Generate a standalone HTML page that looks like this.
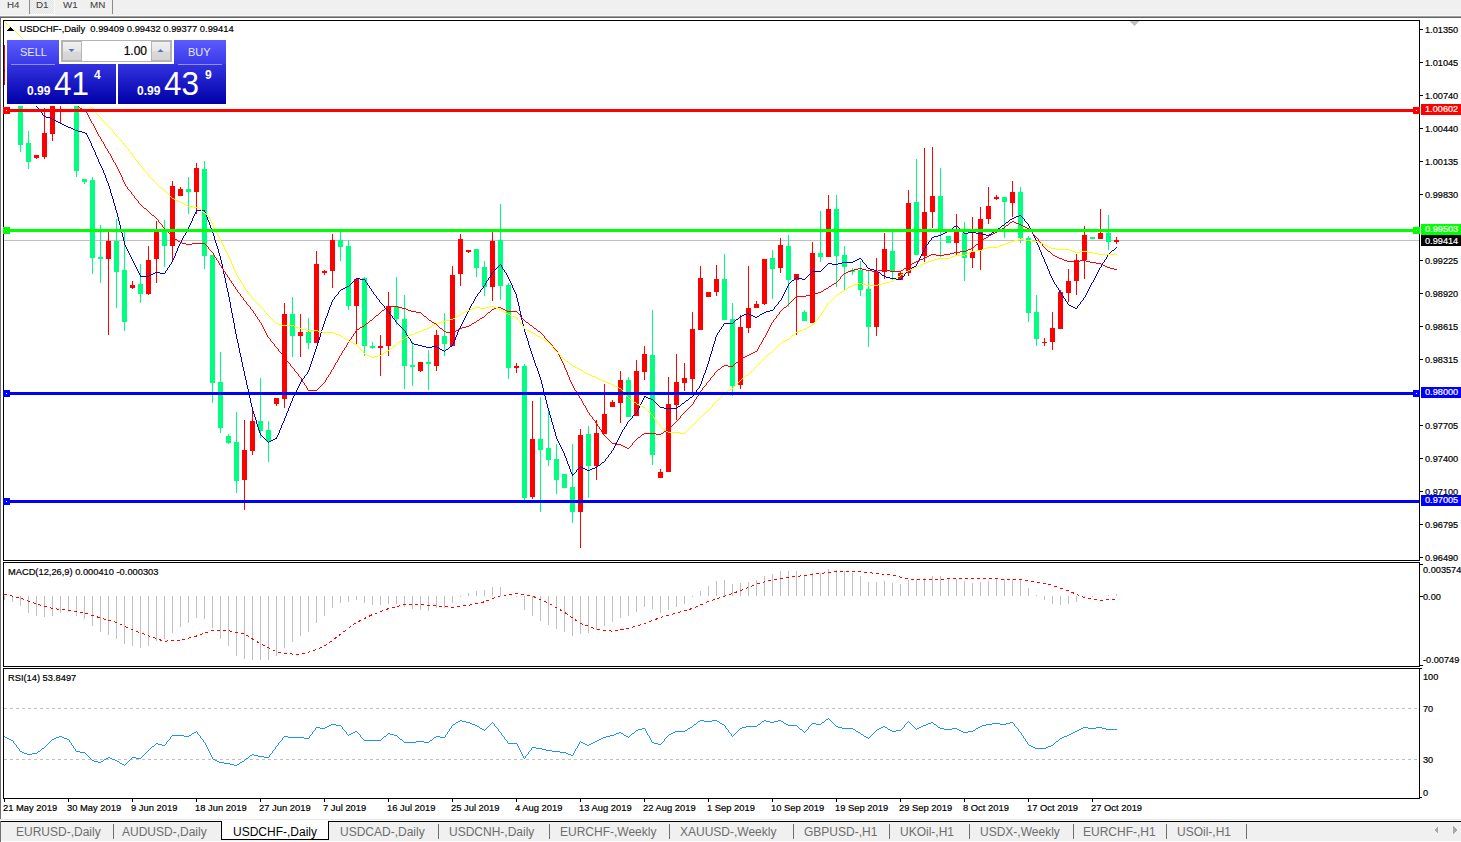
<!DOCTYPE html>
<html><head><meta charset="utf-8"><style>
html,body{margin:0;padding:0;width:1461px;height:842px;overflow:hidden;background:#fff}
svg{display:block}
text{font-family:"Liberation Sans",sans-serif}
</style></head><body>
<svg width="1461" height="842" viewBox="0 0 1461 842" shape-rendering="crispEdges">
<defs><clipPath id="mainclip"><rect x="4" y="21" width="1415" height="539"/></clipPath></defs>
<rect x="0" y="0" width="1461" height="16" fill="#f0f0f0"/>
<rect x="0" y="15" width="1461" height="1" fill="#f7f7f7"/>
<rect x="0" y="16" width="1461" height="1" fill="#a0a0a0"/>
<rect x="0" y="17" width="1461" height="1" fill="#646464"/>
<rect x="0" y="18" width="1461" height="801" fill="#ffffff"/>
<rect x="0" y="18" width="1" height="801" fill="#6e6e6e"/>
<rect x="29" y="0" width="1" height="14" fill="#8c8c8c"/>
<rect x="112" y="0" width="1" height="14" fill="#8c8c8c"/>
<pattern id="hatch" width="2" height="2" patternUnits="userSpaceOnUse"><rect width="2" height="2" fill="#f4f4f4"/><rect width="1" height="1" fill="#e2e2e2"/><rect x="1" y="1" width="1" height="1" fill="#e2e2e2"/></pattern>
<rect x="30" y="0" width="24" height="14" fill="url(#hatch)"/>
<rect x="30" y="14" width="25" height="1" fill="#fafafa"/>
<rect x="54" y="0" width="1" height="14" fill="#fafafa"/>
<text x="7" y="8" font-size="9.8" fill="#404040" font-weight="400" text-anchor="start" stroke="#404040" stroke-width="0.05">H4</text>
<text x="36" y="8" font-size="9.8" fill="#404040" font-weight="400" text-anchor="start" stroke="#404040" stroke-width="0.05">D1</text>
<text x="63" y="8" font-size="9.8" fill="#404040" font-weight="400" text-anchor="start" stroke="#404040" stroke-width="0.05">W1</text>
<text x="90" y="8" font-size="9.8" fill="#404040" font-weight="400" text-anchor="start" stroke="#404040" stroke-width="0.05">MN</text>
<rect x="3" y="20" width="1417" height="1" fill="#000"/>
<rect x="3" y="560" width="1417" height="1" fill="#000"/>
<rect x="3" y="20" width="1" height="541" fill="#000"/>
<rect x="1419" y="20" width="1" height="541" fill="#000"/>
<rect x="3" y="562" width="1417" height="1" fill="#000"/>
<rect x="3" y="666" width="1417" height="1" fill="#000"/>
<rect x="3" y="562" width="1" height="105" fill="#000"/>
<rect x="1419" y="562" width="1" height="105" fill="#000"/>
<rect x="3" y="668" width="1417" height="1" fill="#000"/>
<rect x="3" y="798" width="1417" height="1" fill="#000"/>
<rect x="3" y="668" width="1" height="131" fill="#000"/>
<rect x="1419" y="668" width="1" height="131" fill="#000"/>
<rect x="1420" y="29" width="3" height="1" fill="#000"/>
<text x="1425" y="32.5" font-size="9.2" fill="#000" font-weight="400" text-anchor="start" stroke="#000" stroke-width="0.2">1.01350</text>
<rect x="1420" y="62" width="3" height="1" fill="#000"/>
<text x="1425" y="65.5" font-size="9.2" fill="#000" font-weight="400" text-anchor="start" stroke="#000" stroke-width="0.2">1.01045</text>
<rect x="1420" y="95" width="3" height="1" fill="#000"/>
<text x="1425" y="98.5" font-size="9.2" fill="#000" font-weight="400" text-anchor="start" stroke="#000" stroke-width="0.2">1.00740</text>
<rect x="1420" y="128" width="3" height="1" fill="#000"/>
<text x="1425" y="131.5" font-size="9.2" fill="#000" font-weight="400" text-anchor="start" stroke="#000" stroke-width="0.2">1.00440</text>
<rect x="1420" y="161" width="3" height="1" fill="#000"/>
<text x="1425" y="164.5" font-size="9.2" fill="#000" font-weight="400" text-anchor="start" stroke="#000" stroke-width="0.2">1.00135</text>
<rect x="1420" y="194" width="3" height="1" fill="#000"/>
<text x="1425" y="197.5" font-size="9.2" fill="#000" font-weight="400" text-anchor="start" stroke="#000" stroke-width="0.2">0.99830</text>
<rect x="1420" y="260" width="3" height="1" fill="#000"/>
<text x="1425" y="263.5" font-size="9.2" fill="#000" font-weight="400" text-anchor="start" stroke="#000" stroke-width="0.2">0.99225</text>
<rect x="1420" y="293" width="3" height="1" fill="#000"/>
<text x="1425" y="296.5" font-size="9.2" fill="#000" font-weight="400" text-anchor="start" stroke="#000" stroke-width="0.2">0.98920</text>
<rect x="1420" y="326" width="3" height="1" fill="#000"/>
<text x="1425" y="329.5" font-size="9.2" fill="#000" font-weight="400" text-anchor="start" stroke="#000" stroke-width="0.2">0.98615</text>
<rect x="1420" y="359" width="3" height="1" fill="#000"/>
<text x="1425" y="362.5" font-size="9.2" fill="#000" font-weight="400" text-anchor="start" stroke="#000" stroke-width="0.2">0.98315</text>
<rect x="1420" y="425" width="3" height="1" fill="#000"/>
<text x="1425" y="428.5" font-size="9.2" fill="#000" font-weight="400" text-anchor="start" stroke="#000" stroke-width="0.2">0.97705</text>
<rect x="1420" y="458" width="3" height="1" fill="#000"/>
<text x="1425" y="461.5" font-size="9.2" fill="#000" font-weight="400" text-anchor="start" stroke="#000" stroke-width="0.2">0.97400</text>
<rect x="1420" y="491" width="3" height="1" fill="#000"/>
<text x="1425" y="494.5" font-size="9.2" fill="#000" font-weight="400" text-anchor="start" stroke="#000" stroke-width="0.2">0.97100</text>
<rect x="1420" y="524" width="3" height="1" fill="#000"/>
<text x="1425" y="527.5" font-size="9.2" fill="#000" font-weight="400" text-anchor="start" stroke="#000" stroke-width="0.2">0.96795</text>
<rect x="1420" y="557" width="3" height="1" fill="#000"/>
<text x="1425" y="560.5" font-size="9.2" fill="#000" font-weight="400" text-anchor="start" stroke="#000" stroke-width="0.2">0.96490</text>
<rect x="4" y="799" width="1" height="3" fill="#000"/>
<text x="3" y="811" font-size="9.4" fill="#000" font-weight="400" text-anchor="start" stroke="#000" stroke-width="0.2">21 May 2019</text>
<rect x="68" y="799" width="1" height="3" fill="#000"/>
<text x="67" y="811" font-size="9.4" fill="#000" font-weight="400" text-anchor="start" stroke="#000" stroke-width="0.2">30 May 2019</text>
<rect x="132" y="799" width="1" height="3" fill="#000"/>
<text x="131" y="811" font-size="9.4" fill="#000" font-weight="400" text-anchor="start" stroke="#000" stroke-width="0.2">9 Jun 2019</text>
<rect x="196" y="799" width="1" height="3" fill="#000"/>
<text x="195" y="811" font-size="9.4" fill="#000" font-weight="400" text-anchor="start" stroke="#000" stroke-width="0.2">18 Jun 2019</text>
<rect x="260" y="799" width="1" height="3" fill="#000"/>
<text x="259" y="811" font-size="9.4" fill="#000" font-weight="400" text-anchor="start" stroke="#000" stroke-width="0.2">27 Jun 2019</text>
<rect x="324" y="799" width="1" height="3" fill="#000"/>
<text x="323" y="811" font-size="9.4" fill="#000" font-weight="400" text-anchor="start" stroke="#000" stroke-width="0.2">7 Jul 2019</text>
<rect x="388" y="799" width="1" height="3" fill="#000"/>
<text x="387" y="811" font-size="9.4" fill="#000" font-weight="400" text-anchor="start" stroke="#000" stroke-width="0.2">16 Jul 2019</text>
<rect x="452" y="799" width="1" height="3" fill="#000"/>
<text x="451" y="811" font-size="9.4" fill="#000" font-weight="400" text-anchor="start" stroke="#000" stroke-width="0.2">25 Jul 2019</text>
<rect x="516" y="799" width="1" height="3" fill="#000"/>
<text x="515" y="811" font-size="9.4" fill="#000" font-weight="400" text-anchor="start" stroke="#000" stroke-width="0.2">4 Aug 2019</text>
<rect x="580" y="799" width="1" height="3" fill="#000"/>
<text x="579" y="811" font-size="9.4" fill="#000" font-weight="400" text-anchor="start" stroke="#000" stroke-width="0.2">13 Aug 2019</text>
<rect x="644" y="799" width="1" height="3" fill="#000"/>
<text x="643" y="811" font-size="9.4" fill="#000" font-weight="400" text-anchor="start" stroke="#000" stroke-width="0.2">22 Aug 2019</text>
<rect x="708" y="799" width="1" height="3" fill="#000"/>
<text x="707" y="811" font-size="9.4" fill="#000" font-weight="400" text-anchor="start" stroke="#000" stroke-width="0.2">1 Sep 2019</text>
<rect x="772" y="799" width="1" height="3" fill="#000"/>
<text x="771" y="811" font-size="9.4" fill="#000" font-weight="400" text-anchor="start" stroke="#000" stroke-width="0.2">10 Sep 2019</text>
<rect x="836" y="799" width="1" height="3" fill="#000"/>
<text x="835" y="811" font-size="9.4" fill="#000" font-weight="400" text-anchor="start" stroke="#000" stroke-width="0.2">19 Sep 2019</text>
<rect x="900" y="799" width="1" height="3" fill="#000"/>
<text x="899" y="811" font-size="9.4" fill="#000" font-weight="400" text-anchor="start" stroke="#000" stroke-width="0.2">29 Sep 2019</text>
<rect x="964" y="799" width="1" height="3" fill="#000"/>
<text x="963" y="811" font-size="9.4" fill="#000" font-weight="400" text-anchor="start" stroke="#000" stroke-width="0.2">8 Oct 2019</text>
<rect x="1028" y="799" width="1" height="3" fill="#000"/>
<text x="1027" y="811" font-size="9.4" fill="#000" font-weight="400" text-anchor="start" stroke="#000" stroke-width="0.2">17 Oct 2019</text>
<rect x="1092" y="799" width="1" height="3" fill="#000"/>
<text x="1091" y="811" font-size="9.4" fill="#000" font-weight="400" text-anchor="start" stroke="#000" stroke-width="0.2">27 Oct 2019</text>
<rect x="0" y="819" width="1461" height="1" fill="#e6e6e6"/>
<rect x="0" y="821" width="1461" height="1" fill="#000"/>
<rect x="1" y="822" width="1461" height="19" fill="#f0f0f0"/>
<rect x="0" y="821" width="1" height="21" fill="#6e6e6e"/>
<rect x="113" y="824" width="1" height="15" fill="#6e6e6e"/>
<rect x="438" y="824" width="1" height="15" fill="#6e6e6e"/>
<rect x="549" y="824" width="1" height="15" fill="#6e6e6e"/>
<rect x="669" y="824" width="1" height="15" fill="#6e6e6e"/>
<rect x="793" y="824" width="1" height="15" fill="#6e6e6e"/>
<rect x="889" y="824" width="1" height="15" fill="#6e6e6e"/>
<rect x="969" y="824" width="1" height="15" fill="#6e6e6e"/>
<rect x="1073" y="824" width="1" height="15" fill="#6e6e6e"/>
<rect x="1166" y="824" width="1" height="15" fill="#6e6e6e"/>
<rect x="1246" y="824" width="1" height="15" fill="#6e6e6e"/>
<rect x="221" y="821" width="108" height="19" fill="#ffffff"/>
<rect x="221" y="821" width="1" height="19" fill="#000"/>
<rect x="328" y="821" width="1" height="19" fill="#000"/>
<rect x="221" y="839" width="108" height="1" fill="#000"/>
<text x="16" y="836" font-size="12" fill="#6d6d6d" font-weight="400" text-anchor="start">EURUSD-,Daily</text>
<text x="122" y="836" font-size="12" fill="#6d6d6d" font-weight="400" text-anchor="start">AUDUSD-,Daily</text>
<text x="233" y="836" font-size="12" fill="#000" font-weight="400" text-anchor="start">USDCHF-,Daily</text>
<text x="340" y="836" font-size="12" fill="#6d6d6d" font-weight="400" text-anchor="start">USDCAD-,Daily</text>
<text x="449" y="836" font-size="12" fill="#6d6d6d" font-weight="400" text-anchor="start">USDCNH-,Daily</text>
<text x="560" y="836" font-size="12" fill="#6d6d6d" font-weight="400" text-anchor="start">EURCHF-,Weekly</text>
<text x="680" y="836" font-size="12" fill="#6d6d6d" font-weight="400" text-anchor="start">XAUUSD-,Weekly</text>
<text x="804" y="836" font-size="12" fill="#6d6d6d" font-weight="400" text-anchor="start">GBPUSD-,H1</text>
<text x="900" y="836" font-size="12" fill="#6d6d6d" font-weight="400" text-anchor="start">UKOil-,H1</text>
<text x="980" y="836" font-size="12" fill="#6d6d6d" font-weight="400" text-anchor="start">USDX-,Weekly</text>
<text x="1083" y="836" font-size="12" fill="#6d6d6d" font-weight="400" text-anchor="start">EURCHF-,H1</text>
<text x="1177" y="836" font-size="12" fill="#6d6d6d" font-weight="400" text-anchor="start">USOil-,H1</text>
<path d="M1438,826 L1434,830 L1438,834 Z" fill="#a8a8a8"/>
<path d="M1453,826 L1457,830 L1453,834 Z" fill="#a8a8a8"/>
<rect x="4" y="240" width="1415" height="1" fill="#c0c0c0"/>
<rect x="4" y="45" width="1" height="40" fill="#ff0000"/>
<rect x="12" y="50" width="1" height="42" fill="#00ff7f"/>
<rect x="10" y="60" width="5" height="25" fill="#00ff7f"/>
<rect x="20" y="85" width="1" height="67" fill="#00ff7f"/>
<rect x="18" y="90" width="5" height="55" fill="#00ff7f"/>
<rect x="28" y="131" width="1" height="38" fill="#00ff7f"/>
<rect x="26" y="143" width="5" height="19" fill="#00ff7f"/>
<rect x="36" y="155" width="1" height="4" fill="#ff0000"/>
<rect x="34" y="155" width="5" height="3" fill="#ff0000"/>
<rect x="44" y="108" width="1" height="51" fill="#ff0000"/>
<rect x="42" y="133" width="5" height="24" fill="#ff0000"/>
<rect x="52" y="90" width="1" height="51" fill="#ff0000"/>
<rect x="50" y="95" width="5" height="39" fill="#ff0000"/>
<rect x="60" y="88" width="1" height="35" fill="#ff0000"/>
<rect x="58" y="92" width="5" height="12" fill="#ff0000"/>
<rect x="68" y="70" width="1" height="34" fill="#00ff7f"/>
<rect x="66" y="75" width="5" height="25" fill="#00ff7f"/>
<rect x="76" y="90" width="1" height="87" fill="#00ff7f"/>
<rect x="74" y="95" width="5" height="76" fill="#00ff7f"/>
<rect x="84" y="179" width="1" height="5" fill="#00ff7f"/>
<rect x="82" y="179" width="5" height="3" fill="#00ff7f"/>
<rect x="92" y="177" width="1" height="97" fill="#00ff7f"/>
<rect x="90" y="180" width="5" height="78" fill="#00ff7f"/>
<rect x="100" y="225" width="1" height="58" fill="#00ff7f"/>
<rect x="98" y="257" width="5" height="2" fill="#00ff7f"/>
<rect x="108" y="232" width="1" height="103" fill="#ff0000"/>
<rect x="106" y="241" width="5" height="18" fill="#ff0000"/>
<rect x="116" y="219" width="1" height="89" fill="#00ff7f"/>
<rect x="114" y="241" width="5" height="31" fill="#00ff7f"/>
<rect x="124" y="230" width="1" height="101" fill="#00ff7f"/>
<rect x="122" y="270" width="5" height="52" fill="#00ff7f"/>
<rect x="132" y="281" width="1" height="8" fill="#ff0000"/>
<rect x="130" y="285" width="5" height="3" fill="#ff0000"/>
<rect x="140" y="264" width="1" height="39" fill="#00ff7f"/>
<rect x="138" y="284" width="5" height="10" fill="#00ff7f"/>
<rect x="148" y="246" width="1" height="49" fill="#ff0000"/>
<rect x="146" y="260" width="5" height="34" fill="#ff0000"/>
<rect x="156" y="221" width="1" height="62" fill="#ff0000"/>
<rect x="154" y="232" width="5" height="27" fill="#ff0000"/>
<rect x="164" y="220" width="1" height="47" fill="#00ff7f"/>
<rect x="162" y="232" width="5" height="14" fill="#00ff7f"/>
<rect x="172" y="181" width="1" height="79" fill="#ff0000"/>
<rect x="170" y="186" width="5" height="60" fill="#ff0000"/>
<rect x="180" y="187" width="1" height="9" fill="#ff0000"/>
<rect x="178" y="189" width="5" height="7" fill="#ff0000"/>
<rect x="188" y="177" width="1" height="37" fill="#00ff7f"/>
<rect x="186" y="189" width="5" height="3" fill="#00ff7f"/>
<rect x="196" y="163" width="1" height="51" fill="#ff0000"/>
<rect x="194" y="168" width="5" height="24" fill="#ff0000"/>
<rect x="204" y="161" width="1" height="108" fill="#00ff7f"/>
<rect x="202" y="169" width="5" height="87" fill="#00ff7f"/>
<rect x="212" y="255" width="1" height="148" fill="#00ff7f"/>
<rect x="210" y="255" width="5" height="128" fill="#00ff7f"/>
<rect x="220" y="352" width="1" height="81" fill="#00ff7f"/>
<rect x="218" y="382" width="5" height="46" fill="#00ff7f"/>
<rect x="228" y="434" width="1" height="10" fill="#00ff7f"/>
<rect x="226" y="436" width="5" height="7" fill="#00ff7f"/>
<rect x="236" y="412" width="1" height="81" fill="#00ff7f"/>
<rect x="234" y="442" width="5" height="39" fill="#00ff7f"/>
<rect x="244" y="420" width="1" height="90" fill="#ff0000"/>
<rect x="242" y="450" width="5" height="30" fill="#ff0000"/>
<rect x="252" y="411" width="1" height="44" fill="#ff0000"/>
<rect x="250" y="421" width="5" height="30" fill="#ff0000"/>
<rect x="260" y="378" width="1" height="60" fill="#00ff7f"/>
<rect x="258" y="421" width="5" height="10" fill="#00ff7f"/>
<rect x="268" y="421" width="1" height="41" fill="#00ff7f"/>
<rect x="266" y="430" width="5" height="11" fill="#00ff7f"/>
<rect x="276" y="398" width="1" height="8" fill="#ff0000"/>
<rect x="274" y="398" width="5" height="6" fill="#ff0000"/>
<rect x="284" y="303" width="1" height="105" fill="#ff0000"/>
<rect x="282" y="314" width="5" height="85" fill="#ff0000"/>
<rect x="292" y="297" width="1" height="60" fill="#00ff7f"/>
<rect x="290" y="314" width="5" height="22" fill="#00ff7f"/>
<rect x="300" y="314" width="1" height="43" fill="#ff0000"/>
<rect x="298" y="332" width="5" height="4" fill="#ff0000"/>
<rect x="308" y="318" width="1" height="31" fill="#00ff7f"/>
<rect x="306" y="332" width="5" height="11" fill="#00ff7f"/>
<rect x="316" y="251" width="1" height="92" fill="#ff0000"/>
<rect x="314" y="264" width="5" height="79" fill="#ff0000"/>
<rect x="324" y="270" width="1" height="5" fill="#ff0000"/>
<rect x="322" y="271" width="5" height="2" fill="#ff0000"/>
<rect x="332" y="234" width="1" height="54" fill="#ff0000"/>
<rect x="330" y="240" width="5" height="31" fill="#ff0000"/>
<rect x="340" y="232" width="1" height="29" fill="#00ff7f"/>
<rect x="338" y="240" width="5" height="7" fill="#00ff7f"/>
<rect x="348" y="240" width="1" height="70" fill="#00ff7f"/>
<rect x="346" y="246" width="5" height="60" fill="#00ff7f"/>
<rect x="356" y="279" width="1" height="66" fill="#ff0000"/>
<rect x="354" y="279" width="5" height="27" fill="#ff0000"/>
<rect x="364" y="277" width="1" height="79" fill="#00ff7f"/>
<rect x="362" y="278" width="5" height="68" fill="#00ff7f"/>
<rect x="372" y="342" width="1" height="7" fill="#00ff7f"/>
<rect x="370" y="346" width="5" height="2" fill="#00ff7f"/>
<rect x="380" y="335" width="1" height="41" fill="#ff0000"/>
<rect x="378" y="346" width="5" height="2" fill="#ff0000"/>
<rect x="388" y="292" width="1" height="64" fill="#ff0000"/>
<rect x="386" y="306" width="5" height="40" fill="#ff0000"/>
<rect x="396" y="277" width="1" height="48" fill="#00ff7f"/>
<rect x="394" y="306" width="5" height="13" fill="#00ff7f"/>
<rect x="404" y="295" width="1" height="94" fill="#00ff7f"/>
<rect x="402" y="319" width="5" height="47" fill="#00ff7f"/>
<rect x="412" y="342" width="1" height="44" fill="#00ff7f"/>
<rect x="410" y="365" width="5" height="2" fill="#00ff7f"/>
<rect x="420" y="362" width="1" height="10" fill="#ff0000"/>
<rect x="418" y="362" width="5" height="9" fill="#ff0000"/>
<rect x="428" y="350" width="1" height="40" fill="#00ff7f"/>
<rect x="426" y="362" width="5" height="2" fill="#00ff7f"/>
<rect x="436" y="330" width="1" height="41" fill="#ff0000"/>
<rect x="434" y="335" width="5" height="31" fill="#ff0000"/>
<rect x="444" y="313" width="1" height="43" fill="#00ff7f"/>
<rect x="442" y="336" width="5" height="8" fill="#00ff7f"/>
<rect x="452" y="266" width="1" height="80" fill="#ff0000"/>
<rect x="450" y="275" width="5" height="71" fill="#ff0000"/>
<rect x="460" y="234" width="1" height="52" fill="#ff0000"/>
<rect x="458" y="239" width="5" height="35" fill="#ff0000"/>
<rect x="468" y="250" width="1" height="3" fill="#ff0000"/>
<rect x="466" y="250" width="5" height="2" fill="#ff0000"/>
<rect x="476" y="249" width="1" height="28" fill="#00ff7f"/>
<rect x="474" y="249" width="5" height="19" fill="#00ff7f"/>
<rect x="484" y="261" width="1" height="35" fill="#00ff7f"/>
<rect x="482" y="267" width="5" height="20" fill="#00ff7f"/>
<rect x="492" y="232" width="1" height="69" fill="#ff0000"/>
<rect x="490" y="241" width="5" height="46" fill="#ff0000"/>
<rect x="500" y="204" width="1" height="96" fill="#00ff7f"/>
<rect x="498" y="240" width="5" height="46" fill="#00ff7f"/>
<rect x="508" y="283" width="1" height="96" fill="#00ff7f"/>
<rect x="506" y="285" width="5" height="83" fill="#00ff7f"/>
<rect x="516" y="363" width="1" height="10" fill="#ff0000"/>
<rect x="514" y="366" width="5" height="2" fill="#ff0000"/>
<rect x="524" y="364" width="1" height="136" fill="#00ff7f"/>
<rect x="522" y="366" width="5" height="132" fill="#00ff7f"/>
<rect x="532" y="401" width="1" height="98" fill="#ff0000"/>
<rect x="530" y="439" width="5" height="58" fill="#ff0000"/>
<rect x="540" y="397" width="1" height="115" fill="#00ff7f"/>
<rect x="538" y="439" width="5" height="11" fill="#00ff7f"/>
<rect x="548" y="410" width="1" height="56" fill="#00ff7f"/>
<rect x="546" y="448" width="5" height="12" fill="#00ff7f"/>
<rect x="556" y="444" width="1" height="50" fill="#00ff7f"/>
<rect x="554" y="459" width="5" height="21" fill="#00ff7f"/>
<rect x="564" y="474" width="1" height="14" fill="#00ff7f"/>
<rect x="562" y="474" width="5" height="14" fill="#00ff7f"/>
<rect x="572" y="444" width="1" height="79" fill="#00ff7f"/>
<rect x="570" y="487" width="5" height="25" fill="#00ff7f"/>
<rect x="580" y="429" width="1" height="119" fill="#ff0000"/>
<rect x="578" y="435" width="5" height="77" fill="#ff0000"/>
<rect x="588" y="426" width="1" height="72" fill="#00ff7f"/>
<rect x="586" y="434" width="5" height="32" fill="#00ff7f"/>
<rect x="596" y="420" width="1" height="60" fill="#ff0000"/>
<rect x="594" y="433" width="5" height="33" fill="#ff0000"/>
<rect x="604" y="384" width="1" height="50" fill="#ff0000"/>
<rect x="602" y="414" width="5" height="20" fill="#ff0000"/>
<rect x="612" y="400" width="1" height="7" fill="#ff0000"/>
<rect x="610" y="402" width="5" height="5" fill="#ff0000"/>
<rect x="620" y="371" width="1" height="52" fill="#ff0000"/>
<rect x="618" y="380" width="5" height="23" fill="#ff0000"/>
<rect x="628" y="377" width="1" height="40" fill="#00ff7f"/>
<rect x="626" y="380" width="5" height="37" fill="#00ff7f"/>
<rect x="636" y="360" width="1" height="56" fill="#ff0000"/>
<rect x="634" y="371" width="5" height="45" fill="#ff0000"/>
<rect x="644" y="346" width="1" height="34" fill="#ff0000"/>
<rect x="642" y="354" width="5" height="18" fill="#ff0000"/>
<rect x="652" y="310" width="1" height="155" fill="#00ff7f"/>
<rect x="650" y="355" width="5" height="100" fill="#00ff7f"/>
<rect x="660" y="469" width="1" height="9" fill="#ff0000"/>
<rect x="658" y="472" width="5" height="6" fill="#ff0000"/>
<rect x="668" y="377" width="1" height="95" fill="#ff0000"/>
<rect x="666" y="404" width="5" height="68" fill="#ff0000"/>
<rect x="676" y="354" width="1" height="66" fill="#ff0000"/>
<rect x="674" y="382" width="5" height="23" fill="#ff0000"/>
<rect x="684" y="363" width="1" height="28" fill="#ff0000"/>
<rect x="682" y="378" width="5" height="5" fill="#ff0000"/>
<rect x="692" y="312" width="1" height="81" fill="#ff0000"/>
<rect x="690" y="329" width="5" height="50" fill="#ff0000"/>
<rect x="700" y="266" width="1" height="64" fill="#ff0000"/>
<rect x="698" y="278" width="5" height="52" fill="#ff0000"/>
<rect x="708" y="292" width="1" height="5" fill="#ff0000"/>
<rect x="706" y="292" width="5" height="5" fill="#ff0000"/>
<rect x="716" y="265" width="1" height="31" fill="#ff0000"/>
<rect x="714" y="279" width="5" height="13" fill="#ff0000"/>
<rect x="724" y="254" width="1" height="66" fill="#00ff7f"/>
<rect x="722" y="279" width="5" height="41" fill="#00ff7f"/>
<rect x="732" y="303" width="1" height="93" fill="#00ff7f"/>
<rect x="730" y="319" width="5" height="67" fill="#00ff7f"/>
<rect x="740" y="315" width="1" height="74" fill="#ff0000"/>
<rect x="738" y="327" width="5" height="58" fill="#ff0000"/>
<rect x="748" y="266" width="1" height="67" fill="#ff0000"/>
<rect x="746" y="308" width="5" height="20" fill="#ff0000"/>
<rect x="756" y="301" width="1" height="7" fill="#ff0000"/>
<rect x="754" y="304" width="5" height="4" fill="#ff0000"/>
<rect x="764" y="259" width="1" height="46" fill="#ff0000"/>
<rect x="762" y="259" width="5" height="45" fill="#ff0000"/>
<rect x="772" y="250" width="1" height="49" fill="#00ff7f"/>
<rect x="770" y="258" width="5" height="11" fill="#00ff7f"/>
<rect x="780" y="238" width="1" height="35" fill="#ff0000"/>
<rect x="778" y="245" width="5" height="23" fill="#ff0000"/>
<rect x="788" y="235" width="1" height="72" fill="#00ff7f"/>
<rect x="786" y="246" width="5" height="34" fill="#00ff7f"/>
<rect x="796" y="274" width="1" height="61" fill="#ff0000"/>
<rect x="794" y="274" width="5" height="6" fill="#ff0000"/>
<rect x="804" y="310" width="1" height="11" fill="#00ff7f"/>
<rect x="802" y="312" width="5" height="9" fill="#00ff7f"/>
<rect x="812" y="242" width="1" height="81" fill="#ff0000"/>
<rect x="810" y="253" width="5" height="70" fill="#ff0000"/>
<rect x="820" y="211" width="1" height="51" fill="#00ff7f"/>
<rect x="818" y="253" width="5" height="4" fill="#00ff7f"/>
<rect x="828" y="195" width="1" height="62" fill="#ff0000"/>
<rect x="826" y="209" width="5" height="48" fill="#ff0000"/>
<rect x="836" y="195" width="1" height="92" fill="#00ff7f"/>
<rect x="834" y="209" width="5" height="47" fill="#00ff7f"/>
<rect x="844" y="246" width="1" height="44" fill="#00ff7f"/>
<rect x="842" y="255" width="5" height="12" fill="#00ff7f"/>
<rect x="852" y="268" width="1" height="7" fill="#00ff7f"/>
<rect x="850" y="270" width="5" height="2" fill="#00ff7f"/>
<rect x="860" y="261" width="1" height="35" fill="#00ff7f"/>
<rect x="858" y="270" width="5" height="20" fill="#00ff7f"/>
<rect x="868" y="271" width="1" height="76" fill="#00ff7f"/>
<rect x="866" y="289" width="5" height="38" fill="#00ff7f"/>
<rect x="876" y="258" width="1" height="78" fill="#ff0000"/>
<rect x="874" y="272" width="5" height="55" fill="#ff0000"/>
<rect x="884" y="233" width="1" height="46" fill="#ff0000"/>
<rect x="882" y="249" width="5" height="23" fill="#ff0000"/>
<rect x="892" y="232" width="1" height="48" fill="#00ff7f"/>
<rect x="890" y="251" width="5" height="21" fill="#00ff7f"/>
<rect x="900" y="271" width="1" height="9" fill="#ff0000"/>
<rect x="898" y="273" width="5" height="7" fill="#ff0000"/>
<rect x="908" y="190" width="1" height="86" fill="#ff0000"/>
<rect x="906" y="203" width="5" height="70" fill="#ff0000"/>
<rect x="916" y="159" width="1" height="96" fill="#00ff7f"/>
<rect x="914" y="202" width="5" height="53" fill="#00ff7f"/>
<rect x="924" y="148" width="1" height="114" fill="#ff0000"/>
<rect x="922" y="212" width="5" height="44" fill="#ff0000"/>
<rect x="932" y="147" width="1" height="81" fill="#ff0000"/>
<rect x="930" y="196" width="5" height="16" fill="#ff0000"/>
<rect x="940" y="168" width="1" height="89" fill="#00ff7f"/>
<rect x="938" y="196" width="5" height="36" fill="#00ff7f"/>
<rect x="948" y="236" width="1" height="7" fill="#00ff7f"/>
<rect x="946" y="236" width="5" height="7" fill="#00ff7f"/>
<rect x="956" y="214" width="1" height="42" fill="#ff0000"/>
<rect x="954" y="232" width="5" height="11" fill="#ff0000"/>
<rect x="964" y="222" width="1" height="59" fill="#00ff7f"/>
<rect x="962" y="233" width="5" height="25" fill="#00ff7f"/>
<rect x="972" y="217" width="1" height="51" fill="#ff0000"/>
<rect x="970" y="252" width="5" height="6" fill="#ff0000"/>
<rect x="980" y="207" width="1" height="63" fill="#ff0000"/>
<rect x="978" y="219" width="5" height="31" fill="#ff0000"/>
<rect x="988" y="187" width="1" height="37" fill="#ff0000"/>
<rect x="986" y="206" width="5" height="13" fill="#ff0000"/>
<rect x="996" y="195" width="1" height="5" fill="#ff0000"/>
<rect x="994" y="197" width="5" height="2" fill="#ff0000"/>
<rect x="1004" y="197" width="1" height="41" fill="#00ff7f"/>
<rect x="1002" y="197" width="5" height="5" fill="#00ff7f"/>
<rect x="1012" y="181" width="1" height="36" fill="#ff0000"/>
<rect x="1010" y="192" width="5" height="11" fill="#ff0000"/>
<rect x="1020" y="187" width="1" height="56" fill="#00ff7f"/>
<rect x="1018" y="192" width="5" height="46" fill="#00ff7f"/>
<rect x="1028" y="236" width="1" height="86" fill="#00ff7f"/>
<rect x="1026" y="238" width="5" height="75" fill="#00ff7f"/>
<rect x="1036" y="295" width="1" height="51" fill="#00ff7f"/>
<rect x="1034" y="312" width="5" height="27" fill="#00ff7f"/>
<rect x="1044" y="338" width="1" height="8" fill="#ff0000"/>
<rect x="1042" y="342" width="5" height="1" fill="#ff0000"/>
<rect x="1052" y="312" width="1" height="38" fill="#ff0000"/>
<rect x="1050" y="328" width="5" height="14" fill="#ff0000"/>
<rect x="1060" y="290" width="1" height="39" fill="#ff0000"/>
<rect x="1058" y="292" width="5" height="37" fill="#ff0000"/>
<rect x="1068" y="269" width="1" height="33" fill="#ff0000"/>
<rect x="1066" y="281" width="5" height="12" fill="#ff0000"/>
<rect x="1076" y="254" width="1" height="41" fill="#ff0000"/>
<rect x="1074" y="260" width="5" height="21" fill="#ff0000"/>
<rect x="1084" y="226" width="1" height="53" fill="#ff0000"/>
<rect x="1082" y="235" width="5" height="25" fill="#ff0000"/>
<rect x="1092" y="237" width="1" height="2" fill="#00ff7f"/>
<rect x="1090" y="237" width="5" height="2" fill="#00ff7f"/>
<rect x="1100" y="209" width="1" height="30" fill="#ff0000"/>
<rect x="1098" y="233" width="5" height="6" fill="#ff0000"/>
<rect x="1108" y="215" width="1" height="35" fill="#00ff7f"/>
<rect x="1106" y="233" width="5" height="9" fill="#00ff7f"/>
<rect x="1116" y="237" width="1" height="7" fill="#ff0000"/>
<rect x="1114" y="240" width="5" height="2" fill="#ff0000"/>
<path d="M4 70h1v1h-1zM5 71h1v1h-1zM6 72h1v1h-1zM7 73h1v1h-1zM8 74h1v2h-1zM9 76h1v1h-1zM10 77h1v1h-1zM11 78h1v1h-1zM12 79h1v1h-1zM13 80h1v1h-1zM14 81h1v1h-1zM15 82h1v1h-1zM16 83h1v2h-1zM17 85h1v1h-1zM18 86h1v1h-1zM19 87h1v1h-1zM20 88h1v1h-1zM21 89h1v1h-1zM22 90h1v1h-1zM23 91h1v1h-1zM24 92h1v2h-1zM25 94h1v1h-1zM26 95h1v1h-1zM27 96h1v1h-1zM28 97h1v1h-1zM29 98h1v1h-1zM30 99h1v1h-1zM31 100h1v1h-1zM32 101h1v2h-1zM33 103h1v1h-1zM34 104h1v1h-1zM35 105h1v1h-1zM36 106h1v1h-1zM37 107h1v1h-1zM38 108h1v2h-1zM39 110h1v1h-1zM40 111h1v1h-1zM41 112h1v1h-1zM42 113h1v2h-1zM43 115h1v1h-1zM44 116h1v1h-1zM45 116h1v1h-1zM46 117h1v1h-1zM47 117h1v1h-1zM48 117h1v1h-1zM49 117h1v1h-1zM50 118h1v1h-1zM51 118h1v1h-1zM52 119h1v1h-1zM53 119h1v1h-1zM54 120h1v1h-1zM55 120h1v1h-1zM56 121h1v1h-1zM57 121h1v1h-1zM58 122h1v1h-1zM59 122h1v1h-1zM60 123h1v1h-1zM61 123h1v1h-1zM62 124h1v1h-1zM63 124h1v1h-1zM64 125h1v1h-1zM65 125h1v1h-1zM66 126h1v1h-1zM67 126h1v1h-1zM68 127h1v1h-1zM69 127h1v1h-1zM70 127h1v1h-1zM71 128h1v1h-1zM72 128h1v1h-1zM73 129h1v1h-1zM74 129h1v1h-1zM75 130h1v1h-1zM76 130h1v1h-1zM77 130h1v1h-1zM78 131h1v1h-1zM79 131h1v1h-1zM80 131h1v1h-1zM81 131h1v1h-1zM82 132h1v1h-1zM83 132h1v1h-1zM84 132h1v1h-1zM85 133h1v1h-1zM86 133h1v2h-1zM87 135h1v2h-1zM88 137h1v2h-1zM89 139h1v2h-1zM90 141h1v2h-1zM91 143h1v3h-1zM92 146h1v2h-1zM93 148h1v2h-1zM94 150h1v2h-1zM95 152h1v3h-1zM96 155h1v2h-1zM97 157h1v2h-1zM98 159h1v3h-1zM99 162h1v2h-1zM100 164h1v2h-1zM101 166h1v2h-1zM102 168h1v2h-1zM103 170h1v3h-1zM104 173h1v2h-1zM105 175h1v3h-1zM106 178h1v3h-1zM107 181h1v2h-1zM108 183h1v3h-1zM109 186h1v3h-1zM110 189h1v4h-1zM111 193h1v3h-1zM112 196h1v3h-1zM113 199h1v4h-1zM114 203h1v3h-1zM115 206h1v4h-1zM116 210h1v3h-1zM117 213h1v4h-1zM118 217h1v4h-1zM119 221h1v4h-1zM120 225h1v4h-1zM121 229h1v4h-1zM122 233h1v4h-1zM123 237h1v4h-1zM124 241h1v4h-1zM125 245h1v2h-1zM126 247h1v2h-1zM127 249h1v2h-1zM128 251h1v2h-1zM129 253h1v2h-1zM130 255h1v2h-1zM131 257h1v2h-1zM132 259h1v2h-1zM133 261h1v2h-1zM134 263h1v2h-1zM135 265h1v2h-1zM136 267h1v2h-1zM137 269h1v2h-1zM138 271h1v2h-1zM139 273h1v2h-1zM140 275h1v2h-1zM141 276h1v1h-1zM142 276h1v1h-1zM143 276h1v1h-1zM144 276h1v1h-1zM145 276h1v1h-1zM146 276h1v1h-1zM147 276h1v1h-1zM148 276h1v1h-1zM149 275h1v1h-1zM150 275h1v1h-1zM151 274h1v1h-1zM152 274h1v1h-1zM153 273h1v1h-1zM154 273h1v1h-1zM155 272h1v1h-1zM156 272h1v1h-1zM157 272h1v1h-1zM158 272h1v1h-1zM159 272h1v1h-1zM160 273h1v1h-1zM161 273h1v1h-1zM162 273h1v1h-1zM163 273h1v1h-1zM164 273h1v1h-1zM165 271h1v2h-1zM166 270h1v1h-1zM167 268h1v2h-1zM168 267h1v1h-1zM169 265h1v2h-1zM170 264h1v1h-1zM171 262h1v2h-1zM172 260h1v2h-1zM173 258h1v2h-1zM174 256h1v2h-1zM175 253h1v3h-1zM176 251h1v2h-1zM177 248h1v3h-1zM178 246h1v2h-1zM179 244h1v2h-1zM180 242h1v2h-1zM181 240h1v2h-1zM182 238h1v2h-1zM183 236h1v2h-1zM184 235h1v1h-1zM185 233h1v2h-1zM186 231h1v2h-1zM187 229h1v2h-1zM188 227h1v2h-1zM189 225h1v2h-1zM190 223h1v2h-1zM191 221h1v2h-1zM192 218h1v3h-1zM193 216h1v2h-1zM194 214h1v2h-1zM195 212h1v2h-1zM196 210h1v2h-1zM197 210h1v1h-1zM198 210h1v1h-1zM199 210h1v1h-1zM200 210h1v1h-1zM201 210h1v1h-1zM202 210h1v1h-1zM203 210h1v1h-1zM204 210h1v2h-1zM205 212h1v2h-1zM206 214h1v3h-1zM207 217h1v3h-1zM208 220h1v2h-1zM209 222h1v3h-1zM210 225h1v3h-1zM211 228h1v2h-1zM212 230h1v3h-1zM213 233h1v3h-1zM214 236h1v4h-1zM215 240h1v3h-1zM216 243h1v3h-1zM217 246h1v3h-1zM218 249h1v4h-1zM219 253h1v3h-1zM220 256h1v4h-1zM221 260h1v4h-1zM222 264h1v5h-1zM223 269h1v5h-1zM224 274h1v4h-1zM225 278h1v5h-1zM226 283h1v5h-1zM227 288h1v4h-1zM228 292h1v5h-1zM229 297h1v5h-1zM230 302h1v6h-1zM231 308h1v5h-1zM232 313h1v5h-1zM233 318h1v5h-1zM234 323h1v6h-1zM235 329h1v5h-1zM236 334h1v5h-1zM237 339h1v4h-1zM238 343h1v5h-1zM239 348h1v5h-1zM240 353h1v4h-1zM241 357h1v5h-1zM242 362h1v5h-1zM243 367h1v4h-1zM244 371h1v5h-1zM245 376h1v4h-1zM246 380h1v5h-1zM247 385h1v4h-1zM248 389h1v5h-1zM249 394h1v4h-1zM250 398h1v5h-1zM251 403h1v4h-1zM252 407h1v4h-1zM253 411h1v3h-1zM254 414h1v3h-1zM255 417h1v3h-1zM256 420h1v4h-1zM257 424h1v3h-1zM258 427h1v3h-1zM259 430h1v3h-1zM260 433h1v2h-1zM261 435h1v1h-1zM262 436h1v1h-1zM263 437h1v1h-1zM264 438h1v1h-1zM265 439h1v1h-1zM266 440h1v1h-1zM267 441h1v1h-1zM268 442h1v1h-1zM269 441h1v1h-1zM270 441h1v1h-1zM271 440h1v1h-1zM272 440h1v1h-1zM273 439h1v1h-1zM274 439h1v1h-1zM275 438h1v1h-1zM276 437h1v2h-1zM277 435h1v2h-1zM278 433h1v2h-1zM279 430h1v3h-1zM280 428h1v2h-1zM281 425h1v3h-1zM282 423h1v2h-1zM283 421h1v2h-1zM284 418h1v3h-1zM285 416h1v2h-1zM286 413h1v3h-1zM287 411h1v2h-1zM288 408h1v3h-1zM289 406h1v2h-1zM290 403h1v3h-1zM291 401h1v2h-1zM292 398h1v3h-1zM293 396h1v2h-1zM294 394h1v2h-1zM295 392h1v2h-1zM296 390h1v2h-1zM297 388h1v2h-1zM298 386h1v2h-1zM299 384h1v2h-1zM300 382h1v2h-1zM301 380h1v2h-1zM302 379h1v1h-1zM303 378h1v1h-1zM304 376h1v2h-1zM305 375h1v1h-1zM306 374h1v1h-1zM307 372h1v2h-1zM308 370h1v2h-1zM309 367h1v3h-1zM310 364h1v3h-1zM311 361h1v3h-1zM312 358h1v3h-1zM313 355h1v3h-1zM314 352h1v3h-1zM315 349h1v3h-1zM316 346h1v3h-1zM317 343h1v3h-1zM318 340h1v3h-1zM319 337h1v3h-1zM320 333h1v4h-1zM321 330h1v3h-1zM322 327h1v3h-1zM323 324h1v3h-1zM324 321h1v3h-1zM325 318h1v3h-1zM326 316h1v2h-1zM327 313h1v3h-1zM328 310h1v3h-1zM329 307h1v3h-1zM330 305h1v2h-1zM331 302h1v3h-1zM332 300h1v2h-1zM333 299h1v1h-1zM334 297h1v2h-1zM335 296h1v1h-1zM336 295h1v1h-1zM337 294h1v1h-1zM338 292h1v2h-1zM339 291h1v1h-1zM340 290h1v1h-1zM341 289h1v1h-1zM342 289h1v1h-1zM343 288h1v1h-1zM344 288h1v1h-1zM345 287h1v1h-1zM346 287h1v1h-1zM347 286h1v1h-1zM348 286h1v1h-1zM349 285h1v1h-1zM350 284h1v1h-1zM351 283h1v1h-1zM352 282h1v1h-1zM353 281h1v1h-1zM354 280h1v1h-1zM355 279h1v1h-1zM356 278h1v1h-1zM357 278h1v1h-1zM358 278h1v1h-1zM359 278h1v1h-1zM360 279h1v1h-1zM361 279h1v1h-1zM362 279h1v1h-1zM363 279h1v1h-1zM364 279h1v1h-1zM365 280h1v2h-1zM366 282h1v1h-1zM367 283h1v2h-1zM368 285h1v1h-1zM369 286h1v2h-1zM370 288h1v1h-1zM371 289h1v2h-1zM372 291h1v1h-1zM373 292h1v2h-1zM374 294h1v1h-1zM375 295h1v1h-1zM376 296h1v2h-1zM377 298h1v1h-1zM378 299h1v1h-1zM379 300h1v2h-1zM380 302h1v1h-1zM381 303h1v1h-1zM382 304h1v1h-1zM383 305h1v1h-1zM384 306h1v2h-1zM385 308h1v1h-1zM386 309h1v1h-1zM387 310h1v1h-1zM388 311h1v1h-1zM389 312h1v2h-1zM390 314h1v1h-1zM391 315h1v1h-1zM392 316h1v2h-1zM393 318h1v1h-1zM394 319h1v1h-1zM395 320h1v2h-1zM396 322h1v1h-1zM397 323h1v1h-1zM398 324h1v1h-1zM399 325h1v1h-1zM400 326h1v1h-1zM401 327h1v1h-1zM402 328h1v1h-1zM403 329h1v1h-1zM404 330h1v1h-1zM405 331h1v2h-1zM406 333h1v2h-1zM407 335h1v1h-1zM408 336h1v2h-1zM409 338h1v1h-1zM410 339h1v2h-1zM411 341h1v2h-1zM412 343h1v1h-1zM413 343h1v1h-1zM414 344h1v1h-1zM415 344h1v1h-1zM416 344h1v1h-1zM417 344h1v1h-1zM418 345h1v1h-1zM419 345h1v1h-1zM420 345h1v1h-1zM421 345h1v1h-1zM422 346h1v1h-1zM423 346h1v1h-1zM424 346h1v1h-1zM425 346h1v1h-1zM426 347h1v1h-1zM427 347h1v1h-1zM428 347h1v1h-1zM429 347h1v1h-1zM430 347h1v1h-1zM431 347h1v1h-1zM432 346h1v1h-1zM433 346h1v1h-1zM434 346h1v1h-1zM435 346h1v1h-1zM436 346h1v1h-1zM437 347h1v1h-1zM438 347h1v1h-1zM439 348h1v1h-1zM440 349h1v1h-1zM441 349h1v1h-1zM442 350h1v1h-1zM443 350h1v1h-1zM444 351h1v1h-1zM445 350h1v1h-1zM446 349h1v1h-1zM447 349h1v1h-1zM448 348h1v1h-1zM449 347h1v1h-1zM450 346h1v1h-1zM451 346h1v1h-1zM452 344h1v2h-1zM453 342h1v2h-1zM454 340h1v2h-1zM455 337h1v3h-1zM456 335h1v2h-1zM457 332h1v3h-1zM458 330h1v2h-1zM459 328h1v2h-1zM460 326h1v2h-1zM461 324h1v2h-1zM462 322h1v2h-1zM463 320h1v2h-1zM464 318h1v2h-1zM465 316h1v2h-1zM466 314h1v2h-1zM467 312h1v2h-1zM468 310h1v2h-1zM469 308h1v2h-1zM470 306h1v2h-1zM471 304h1v2h-1zM472 303h1v1h-1zM473 301h1v2h-1zM474 299h1v2h-1zM475 297h1v2h-1zM476 296h1v1h-1zM477 294h1v2h-1zM478 293h1v1h-1zM479 292h1v1h-1zM480 290h1v2h-1zM481 289h1v1h-1zM482 288h1v1h-1zM483 286h1v2h-1zM484 285h1v1h-1zM485 283h1v2h-1zM486 281h1v2h-1zM487 280h1v1h-1zM488 278h1v2h-1zM489 277h1v1h-1zM490 275h1v2h-1zM491 273h1v2h-1zM492 272h1v1h-1zM493 271h1v1h-1zM494 270h1v1h-1zM495 269h1v1h-1zM496 268h1v1h-1zM497 267h1v1h-1zM498 266h1v1h-1zM499 265h1v1h-1zM500 264h1v1h-1zM501 265h1v2h-1zM502 267h1v2h-1zM503 269h1v1h-1zM504 270h1v2h-1zM505 272h1v1h-1zM506 273h1v2h-1zM507 275h1v2h-1zM508 277h1v2h-1zM509 279h1v2h-1zM510 281h1v2h-1zM511 283h1v2h-1zM512 285h1v3h-1zM513 288h1v2h-1zM514 290h1v2h-1zM515 292h1v2h-1zM516 294h1v4h-1zM517 298h1v4h-1zM518 302h1v4h-1zM519 306h1v5h-1zM520 311h1v4h-1zM521 315h1v5h-1zM522 320h1v4h-1zM523 324h1v4h-1zM524 328h1v4h-1zM525 332h1v3h-1zM526 335h1v3h-1zM527 338h1v3h-1zM528 341h1v4h-1zM529 345h1v3h-1zM530 348h1v3h-1zM531 351h1v3h-1zM532 354h1v3h-1zM533 357h1v3h-1zM534 360h1v3h-1zM535 363h1v3h-1zM536 366h1v2h-1zM537 368h1v3h-1zM538 371h1v3h-1zM539 374h1v3h-1zM540 377h1v3h-1zM541 380h1v4h-1zM542 384h1v4h-1zM543 388h1v4h-1zM544 392h1v4h-1zM545 396h1v4h-1zM546 400h1v4h-1zM547 404h1v4h-1zM548 408h1v3h-1zM549 411h1v4h-1zM550 415h1v3h-1zM551 418h1v4h-1zM552 422h1v3h-1zM553 425h1v4h-1zM554 429h1v3h-1zM555 432h1v4h-1zM556 436h1v3h-1zM557 439h1v2h-1zM558 441h1v2h-1zM559 443h1v2h-1zM560 445h1v2h-1zM561 447h1v2h-1zM562 449h1v2h-1zM563 451h1v2h-1zM564 453h1v3h-1zM565 456h1v2h-1zM566 458h1v3h-1zM567 461h1v3h-1zM568 464h1v2h-1zM569 466h1v3h-1zM570 469h1v3h-1zM571 472h1v2h-1zM572 474h1v2h-1zM573 474h1v1h-1zM574 473h1v1h-1zM575 472h1v1h-1zM576 470h1v2h-1zM577 469h1v1h-1zM578 468h1v1h-1zM579 467h1v1h-1zM580 466h1v1h-1zM581 467h1v1h-1zM582 467h1v1h-1zM583 468h1v1h-1zM584 468h1v1h-1zM585 469h1v1h-1zM586 469h1v1h-1zM587 470h1v1h-1zM588 470h1v1h-1zM589 470h1v1h-1zM590 469h1v1h-1zM591 469h1v1h-1zM592 468h1v1h-1zM593 468h1v1h-1zM594 468h1v1h-1zM595 467h1v1h-1zM596 467h1v1h-1zM597 466h1v1h-1zM598 465h1v1h-1zM599 465h1v1h-1zM600 464h1v1h-1zM601 463h1v1h-1zM602 462h1v1h-1zM603 462h1v1h-1zM604 461h1v1h-1zM605 459h1v2h-1zM606 458h1v1h-1zM607 457h1v1h-1zM608 455h1v2h-1zM609 454h1v1h-1zM610 453h1v1h-1zM611 451h1v2h-1zM612 450h1v1h-1zM613 448h1v2h-1zM614 446h1v2h-1zM615 444h1v2h-1zM616 442h1v2h-1zM617 440h1v2h-1zM618 438h1v2h-1zM619 436h1v2h-1zM620 434h1v2h-1zM621 432h1v2h-1zM622 430h1v2h-1zM623 429h1v1h-1zM624 427h1v2h-1zM625 426h1v1h-1zM626 424h1v2h-1zM627 422h1v2h-1zM628 421h1v1h-1zM629 420h1v1h-1zM630 419h1v1h-1zM631 418h1v1h-1zM632 416h1v2h-1zM633 415h1v1h-1zM634 414h1v1h-1zM635 413h1v1h-1zM636 412h1v1h-1zM637 410h1v2h-1zM638 408h1v2h-1zM639 406h1v2h-1zM640 404h1v2h-1zM641 402h1v2h-1zM642 400h1v2h-1zM643 398h1v2h-1zM644 396h1v2h-1zM645 396h1v1h-1zM646 397h1v1h-1zM647 397h1v1h-1zM648 398h1v1h-1zM649 398h1v1h-1zM650 398h1v1h-1zM651 399h1v1h-1zM652 399h1v1h-1zM653 400h1v1h-1zM654 401h1v1h-1zM655 402h1v1h-1zM656 403h1v1h-1zM657 404h1v1h-1zM658 405h1v1h-1zM659 406h1v1h-1zM660 407h1v1h-1zM661 407h1v1h-1zM662 407h1v1h-1zM663 407h1v1h-1zM664 408h1v1h-1zM665 408h1v1h-1zM666 408h1v1h-1zM667 408h1v1h-1zM668 408h1v1h-1zM669 408h1v1h-1zM670 408h1v1h-1zM671 408h1v1h-1zM672 408h1v1h-1zM673 408h1v1h-1zM674 408h1v1h-1zM675 408h1v1h-1zM676 408h1v1h-1zM677 407h1v1h-1zM678 406h1v1h-1zM679 406h1v1h-1zM680 405h1v1h-1zM681 404h1v1h-1zM682 403h1v1h-1zM683 403h1v1h-1zM684 402h1v1h-1zM685 401h1v1h-1zM686 400h1v1h-1zM687 400h1v1h-1zM688 399h1v1h-1zM689 398h1v1h-1zM690 397h1v1h-1zM691 397h1v1h-1zM692 396h1v1h-1zM693 394h1v2h-1zM694 393h1v1h-1zM695 392h1v1h-1zM696 390h1v2h-1zM697 389h1v1h-1zM698 388h1v1h-1zM699 386h1v2h-1zM700 384h1v2h-1zM701 381h1v3h-1zM702 378h1v3h-1zM703 375h1v3h-1zM704 373h1v2h-1zM705 370h1v3h-1zM706 367h1v3h-1zM707 364h1v3h-1zM708 361h1v3h-1zM709 357h1v4h-1zM710 354h1v3h-1zM711 351h1v3h-1zM712 347h1v4h-1zM713 344h1v3h-1zM714 341h1v3h-1zM715 337h1v4h-1zM716 335h1v2h-1zM717 333h1v2h-1zM718 332h1v1h-1zM719 330h1v2h-1zM720 329h1v1h-1zM721 327h1v2h-1zM722 326h1v1h-1zM723 324h1v2h-1zM724 323h1v1h-1zM725 323h1v1h-1zM726 323h1v1h-1zM727 323h1v1h-1zM728 323h1v1h-1zM729 323h1v1h-1zM730 323h1v1h-1zM731 323h1v1h-1zM732 323h1v1h-1zM733 322h1v1h-1zM734 321h1v1h-1zM735 320h1v1h-1zM736 319h1v1h-1zM737 319h1v1h-1zM738 318h1v1h-1zM739 317h1v1h-1zM740 316h1v1h-1zM741 316h1v1h-1zM742 315h1v1h-1zM743 315h1v1h-1zM744 314h1v1h-1zM745 314h1v1h-1zM746 314h1v1h-1zM747 313h1v1h-1zM748 313h1v1h-1zM749 314h1v1h-1zM750 314h1v1h-1zM751 315h1v1h-1zM752 315h1v1h-1zM753 316h1v1h-1zM754 316h1v1h-1zM755 317h1v1h-1zM756 317h1v1h-1zM757 316h1v1h-1zM758 316h1v1h-1zM759 315h1v1h-1zM760 314h1v1h-1zM761 314h1v1h-1zM762 313h1v1h-1zM763 313h1v1h-1zM764 312h1v1h-1zM765 312h1v1h-1zM766 311h1v1h-1zM767 311h1v1h-1zM768 311h1v1h-1zM769 311h1v1h-1zM770 310h1v1h-1zM771 310h1v1h-1zM772 310h1v1h-1zM773 309h1v1h-1zM774 307h1v2h-1zM775 306h1v1h-1zM776 305h1v1h-1zM777 304h1v1h-1zM778 302h1v2h-1zM779 301h1v1h-1zM780 300h1v1h-1zM781 298h1v2h-1zM782 296h1v2h-1zM783 294h1v2h-1zM784 292h1v2h-1zM785 290h1v2h-1zM786 288h1v2h-1zM787 286h1v2h-1zM788 284h1v2h-1zM789 283h1v1h-1zM790 282h1v1h-1zM791 281h1v1h-1zM792 280h1v1h-1zM793 280h1v1h-1zM794 279h1v1h-1zM795 278h1v1h-1zM796 277h1v1h-1zM797 277h1v1h-1zM798 278h1v1h-1zM799 278h1v1h-1zM800 278h1v1h-1zM801 278h1v1h-1zM802 279h1v1h-1zM803 279h1v1h-1zM804 279h1v1h-1zM805 278h1v1h-1zM806 277h1v1h-1zM807 276h1v1h-1zM808 275h1v1h-1zM809 274h1v1h-1zM810 273h1v1h-1zM811 272h1v1h-1zM812 271h1v1h-1zM813 271h1v1h-1zM814 271h1v1h-1zM815 271h1v1h-1zM816 271h1v1h-1zM817 271h1v1h-1zM818 271h1v1h-1zM819 271h1v1h-1zM820 271h1v1h-1zM821 270h1v1h-1zM822 269h1v1h-1zM823 268h1v1h-1zM824 267h1v1h-1zM825 266h1v1h-1zM826 265h1v1h-1zM827 264h1v1h-1zM828 263h1v1h-1zM829 263h1v1h-1zM830 263h1v1h-1zM831 263h1v1h-1zM832 264h1v1h-1zM833 264h1v1h-1zM834 264h1v1h-1zM835 264h1v1h-1zM836 264h1v1h-1zM837 264h1v1h-1zM838 263h1v1h-1zM839 263h1v1h-1zM840 263h1v1h-1zM841 263h1v1h-1zM842 262h1v1h-1zM843 262h1v1h-1zM844 262h1v1h-1zM845 262h1v1h-1zM846 262h1v1h-1zM847 262h1v1h-1zM848 262h1v1h-1zM849 262h1v1h-1zM850 262h1v1h-1zM851 262h1v1h-1zM852 262h1v1h-1zM853 261h1v1h-1zM854 261h1v1h-1zM855 260h1v1h-1zM856 260h1v1h-1zM857 259h1v1h-1zM858 259h1v1h-1zM859 258h1v1h-1zM860 258h1v1h-1zM861 259h1v1h-1zM862 260h1v2h-1zM863 262h1v1h-1zM864 263h1v1h-1zM865 264h1v1h-1zM866 265h1v2h-1zM867 267h1v1h-1zM868 268h1v1h-1zM869 268h1v1h-1zM870 269h1v1h-1zM871 269h1v1h-1zM872 269h1v1h-1zM873 269h1v1h-1zM874 270h1v1h-1zM875 270h1v1h-1zM876 270h1v1h-1zM877 271h1v1h-1zM878 272h1v1h-1zM879 272h1v1h-1zM880 273h1v1h-1zM881 274h1v1h-1zM882 275h1v1h-1zM883 275h1v1h-1zM884 276h1v1h-1zM885 276h1v1h-1zM886 277h1v1h-1zM887 277h1v1h-1zM888 277h1v1h-1zM889 277h1v1h-1zM890 278h1v1h-1zM891 278h1v1h-1zM892 278h1v1h-1zM893 278h1v1h-1zM894 278h1v1h-1zM895 278h1v1h-1zM896 279h1v1h-1zM897 279h1v1h-1zM898 279h1v1h-1zM899 279h1v1h-1zM900 279h1v1h-1zM901 278h1v1h-1zM902 277h1v1h-1zM903 276h1v1h-1zM904 274h1v2h-1zM905 273h1v1h-1zM906 272h1v1h-1zM907 271h1v1h-1zM908 270h1v1h-1zM909 269h1v1h-1zM910 269h1v1h-1zM911 268h1v1h-1zM912 267h1v1h-1zM913 267h1v1h-1zM914 266h1v1h-1zM915 266h1v1h-1zM916 264h1v2h-1zM917 262h1v2h-1zM918 260h1v2h-1zM919 258h1v2h-1zM920 256h1v2h-1zM921 254h1v2h-1zM922 252h1v2h-1zM923 250h1v2h-1zM924 248h1v2h-1zM925 246h1v2h-1zM926 245h1v1h-1zM927 244h1v1h-1zM928 242h1v2h-1zM929 241h1v1h-1zM930 240h1v1h-1zM931 238h1v2h-1zM932 237h1v1h-1zM933 237h1v1h-1zM934 236h1v1h-1zM935 236h1v1h-1zM936 236h1v1h-1zM937 236h1v1h-1zM938 235h1v1h-1zM939 235h1v1h-1zM940 235h1v1h-1zM941 234h1v1h-1zM942 234h1v1h-1zM943 233h1v1h-1zM944 233h1v1h-1zM945 232h1v1h-1zM946 232h1v1h-1zM947 231h1v1h-1zM948 231h1v1h-1zM949 230h1v1h-1zM950 229h1v1h-1zM951 229h1v1h-1zM952 228h1v1h-1zM953 227h1v1h-1zM954 226h1v1h-1zM955 226h1v1h-1zM956 225h1v1h-1zM957 226h1v1h-1zM958 227h1v1h-1zM959 228h1v1h-1zM960 229h1v1h-1zM961 230h1v1h-1zM962 231h1v1h-1zM963 232h1v1h-1zM964 233h1v1h-1zM965 233h1v1h-1zM966 233h1v1h-1zM967 233h1v1h-1zM968 232h1v1h-1zM969 232h1v1h-1zM970 232h1v1h-1zM971 232h1v1h-1zM972 232h1v1h-1zM973 232h1v1h-1zM974 232h1v1h-1zM975 232h1v1h-1zM976 233h1v1h-1zM977 233h1v1h-1zM978 233h1v1h-1zM979 233h1v1h-1zM980 233h1v1h-1zM981 233h1v1h-1zM982 234h1v1h-1zM983 234h1v1h-1zM984 234h1v1h-1zM985 234h1v1h-1zM986 235h1v1h-1zM987 235h1v1h-1zM988 235h1v1h-1zM989 234h1v1h-1zM990 234h1v1h-1zM991 233h1v1h-1zM992 232h1v1h-1zM993 232h1v1h-1zM994 231h1v1h-1zM995 231h1v1h-1zM996 230h1v1h-1zM997 229h1v1h-1zM998 228h1v1h-1zM999 228h1v1h-1zM1000 227h1v1h-1zM1001 226h1v1h-1zM1002 225h1v1h-1zM1003 225h1v1h-1zM1004 224h1v1h-1zM1005 223h1v1h-1zM1006 222h1v1h-1zM1007 222h1v1h-1zM1008 221h1v1h-1zM1009 220h1v1h-1zM1010 219h1v1h-1zM1011 219h1v1h-1zM1012 218h1v1h-1zM1013 218h1v1h-1zM1014 217h1v1h-1zM1015 217h1v1h-1zM1016 216h1v1h-1zM1017 216h1v1h-1zM1018 216h1v1h-1zM1019 215h1v1h-1zM1020 215h1v1h-1zM1021 216h1v1h-1zM1022 217h1v1h-1zM1023 218h1v1h-1zM1024 219h1v2h-1zM1025 221h1v1h-1zM1026 222h1v1h-1zM1027 223h1v1h-1zM1028 224h1v2h-1zM1029 226h1v2h-1zM1030 228h1v2h-1zM1031 230h1v2h-1zM1032 232h1v2h-1zM1033 234h1v2h-1zM1034 236h1v2h-1zM1035 238h1v2h-1zM1036 240h1v3h-1zM1037 243h1v2h-1zM1038 245h1v2h-1zM1039 247h1v3h-1zM1040 250h1v2h-1zM1041 252h1v3h-1zM1042 255h1v2h-1zM1043 257h1v2h-1zM1044 259h1v3h-1zM1045 262h1v2h-1zM1046 264h1v2h-1zM1047 266h1v3h-1zM1048 269h1v2h-1zM1049 271h1v3h-1zM1050 274h1v2h-1zM1051 276h1v2h-1zM1052 278h1v2h-1zM1053 280h1v2h-1zM1054 282h1v2h-1zM1055 284h1v1h-1zM1056 285h1v2h-1zM1057 287h1v1h-1zM1058 288h1v2h-1zM1059 290h1v2h-1zM1060 292h1v1h-1zM1061 293h1v2h-1zM1062 295h1v1h-1zM1063 296h1v2h-1zM1064 298h1v1h-1zM1065 299h1v2h-1zM1066 301h1v1h-1zM1067 302h1v2h-1zM1068 304h1v1h-1zM1069 305h1v1h-1zM1070 305h1v1h-1zM1071 306h1v1h-1zM1072 306h1v1h-1zM1073 307h1v1h-1zM1074 307h1v1h-1zM1075 308h1v1h-1zM1076 308h1v1h-1zM1077 306h1v2h-1zM1078 305h1v1h-1zM1079 304h1v1h-1zM1080 302h1v2h-1zM1081 301h1v1h-1zM1082 300h1v1h-1zM1083 298h1v2h-1zM1084 297h1v1h-1zM1085 295h1v2h-1zM1086 293h1v2h-1zM1087 291h1v2h-1zM1088 289h1v2h-1zM1089 287h1v2h-1zM1090 285h1v2h-1zM1091 283h1v2h-1zM1092 282h1v1h-1zM1093 280h1v2h-1zM1094 278h1v2h-1zM1095 276h1v2h-1zM1096 274h1v2h-1zM1097 272h1v2h-1zM1098 270h1v2h-1zM1099 268h1v2h-1zM1100 267h1v1h-1zM1101 265h1v2h-1zM1102 263h1v2h-1zM1103 262h1v1h-1zM1104 260h1v2h-1zM1105 259h1v1h-1zM1106 257h1v2h-1zM1107 255h1v2h-1zM1108 254h1v1h-1zM1109 253h1v1h-1zM1110 252h1v1h-1zM1111 251h1v1h-1zM1112 250h1v1h-1zM1113 250h1v1h-1zM1114 249h1v1h-1zM1115 248h1v1h-1zM1116 247h1v1h-1z" fill="#0000cd"/>
<path d="M78 106h1v1h-1zM79 107h1v1h-1zM80 108h1v1h-1zM81 108h1v1h-1zM82 109h1v1h-1zM83 110h1v1h-1zM84 111h1v1h-1zM85 111h1v1h-1zM86 112h1v1h-1zM87 113h1v2h-1zM88 115h1v2h-1zM89 117h1v2h-1zM90 119h1v2h-1zM91 121h1v2h-1zM92 123h1v1h-1zM93 124h1v2h-1zM94 126h1v2h-1zM95 128h1v2h-1zM96 130h1v2h-1zM97 132h1v2h-1zM98 134h1v2h-1zM99 136h1v1h-1zM100 137h1v2h-1zM101 139h1v2h-1zM102 141h1v1h-1zM103 142h1v2h-1zM104 144h1v2h-1zM105 146h1v2h-1zM106 148h1v1h-1zM107 149h1v2h-1zM108 151h1v2h-1zM109 153h1v1h-1zM110 154h1v2h-1zM111 156h1v2h-1zM112 158h1v2h-1zM113 160h1v2h-1zM114 162h1v1h-1zM115 163h1v2h-1zM116 165h1v2h-1zM117 167h1v2h-1zM118 169h1v2h-1zM119 171h1v2h-1zM120 173h1v2h-1zM121 175h1v2h-1zM122 177h1v3h-1zM123 180h1v2h-1zM124 182h1v2h-1zM125 184h1v2h-1zM126 186h1v1h-1zM127 187h1v2h-1zM128 189h1v1h-1zM129 190h1v1h-1zM130 191h1v1h-1zM131 192h1v2h-1zM132 194h1v1h-1zM133 195h1v1h-1zM134 196h1v2h-1zM135 198h1v1h-1zM136 199h1v1h-1zM137 200h1v1h-1zM138 201h1v2h-1zM139 203h1v1h-1zM140 204h1v1h-1zM141 205h1v1h-1zM142 206h1v1h-1zM143 207h1v1h-1zM144 208h1v1h-1zM145 208h1v1h-1zM146 209h1v1h-1zM147 210h1v1h-1zM148 211h1v1h-1zM149 212h1v1h-1zM150 213h1v1h-1zM151 214h1v1h-1zM152 215h1v1h-1zM153 215h1v1h-1zM154 216h1v1h-1zM155 217h1v1h-1zM156 218h1v1h-1zM157 219h1v1h-1zM158 220h1v2h-1zM159 222h1v1h-1zM160 223h1v1h-1zM161 224h1v1h-1zM162 225h1v2h-1zM163 227h1v1h-1zM164 228h1v1h-1zM165 229h1v1h-1zM166 230h1v1h-1zM167 231h1v1h-1zM168 232h1v1h-1zM169 233h1v1h-1zM170 234h1v1h-1zM171 235h1v1h-1zM172 236h1v1h-1zM173 237h1v1h-1zM174 238h1v1h-1zM175 239h1v1h-1zM176 239h1v1h-1zM177 240h1v1h-1zM178 241h1v1h-1zM179 241h1v1h-1zM180 242h1v1h-1zM181 242h1v1h-1zM182 243h1v1h-1zM183 243h1v1h-1zM184 243h1v1h-1zM185 243h1v1h-1zM186 244h1v1h-1zM187 244h1v1h-1zM188 244h1v1h-1zM189 244h1v1h-1zM190 244h1v1h-1zM191 244h1v1h-1zM192 243h1v1h-1zM193 243h1v1h-1zM194 243h1v1h-1zM195 243h1v1h-1zM196 243h1v1h-1zM197 243h1v1h-1zM198 243h1v1h-1zM199 243h1v1h-1zM200 243h1v1h-1zM201 243h1v1h-1zM202 243h1v1h-1zM203 243h1v1h-1zM204 243h1v1h-1zM205 244h1v1h-1zM206 245h1v1h-1zM207 246h1v1h-1zM208 247h1v2h-1zM209 249h1v1h-1zM210 250h1v1h-1zM211 251h1v1h-1zM212 252h1v1h-1zM213 253h1v2h-1zM214 255h1v2h-1zM215 257h1v1h-1zM216 258h1v2h-1zM217 260h1v1h-1zM218 261h1v2h-1zM219 263h1v2h-1zM220 265h1v1h-1zM221 266h1v2h-1zM222 268h1v1h-1zM223 269h1v2h-1zM224 271h1v1h-1zM225 272h1v2h-1zM226 274h1v1h-1zM227 275h1v2h-1zM228 277h1v1h-1zM229 278h1v2h-1zM230 280h1v1h-1zM231 281h1v2h-1zM232 283h1v1h-1zM233 284h1v2h-1zM234 286h1v1h-1zM235 287h1v2h-1zM236 289h1v1h-1zM237 290h1v2h-1zM238 292h1v1h-1zM239 293h1v1h-1zM240 294h1v2h-1zM241 296h1v1h-1zM242 297h1v1h-1zM243 298h1v2h-1zM244 300h1v1h-1zM245 301h1v1h-1zM246 302h1v2h-1zM247 304h1v1h-1zM248 305h1v1h-1zM249 306h1v1h-1zM250 307h1v2h-1zM251 309h1v1h-1zM252 310h1v1h-1zM253 311h1v2h-1zM254 313h1v1h-1zM255 314h1v2h-1zM256 316h1v1h-1zM257 317h1v2h-1zM258 319h1v1h-1zM259 320h1v2h-1zM260 322h1v1h-1zM261 323h1v2h-1zM262 325h1v2h-1zM263 327h1v2h-1zM264 329h1v2h-1zM265 331h1v2h-1zM266 333h1v2h-1zM267 335h1v2h-1zM268 337h1v1h-1zM269 338h1v1h-1zM270 339h1v2h-1zM271 341h1v1h-1zM272 342h1v1h-1zM273 343h1v1h-1zM274 344h1v2h-1zM275 346h1v1h-1zM276 347h1v1h-1zM277 348h1v1h-1zM278 349h1v2h-1zM279 351h1v1h-1zM280 352h1v1h-1zM281 353h1v1h-1zM282 354h1v2h-1zM283 356h1v1h-1zM284 357h1v1h-1zM285 358h1v1h-1zM286 359h1v2h-1zM287 361h1v1h-1zM288 362h1v1h-1zM289 363h1v1h-1zM290 364h1v2h-1zM291 366h1v1h-1zM292 367h1v1h-1zM293 368h1v1h-1zM294 369h1v2h-1zM295 371h1v1h-1zM296 372h1v1h-1zM297 373h1v1h-1zM298 374h1v2h-1zM299 376h1v1h-1zM300 377h1v1h-1zM301 378h1v2h-1zM302 380h1v2h-1zM303 382h1v1h-1zM304 383h1v2h-1zM305 385h1v1h-1zM306 386h1v2h-1zM307 388h1v2h-1zM308 390h1v1h-1zM309 390h1v1h-1zM310 390h1v1h-1zM311 390h1v1h-1zM312 390h1v1h-1zM313 390h1v1h-1zM314 390h1v1h-1zM315 390h1v1h-1zM316 390h1v1h-1zM317 389h1v1h-1zM318 388h1v1h-1zM319 387h1v1h-1zM320 386h1v1h-1zM321 385h1v1h-1zM322 384h1v1h-1zM323 383h1v1h-1zM324 382h1v1h-1zM325 380h1v2h-1zM326 378h1v2h-1zM327 377h1v1h-1zM328 375h1v2h-1zM329 374h1v1h-1zM330 372h1v2h-1zM331 370h1v2h-1zM332 369h1v1h-1zM333 367h1v2h-1zM334 365h1v2h-1zM335 363h1v2h-1zM336 362h1v1h-1zM337 360h1v2h-1zM338 358h1v2h-1zM339 356h1v2h-1zM340 355h1v1h-1zM341 353h1v2h-1zM342 351h1v2h-1zM343 350h1v1h-1zM344 348h1v2h-1zM345 347h1v1h-1zM346 345h1v2h-1zM347 343h1v2h-1zM348 342h1v1h-1zM349 340h1v2h-1zM350 339h1v1h-1zM351 337h1v2h-1zM352 336h1v1h-1zM353 334h1v2h-1zM354 333h1v1h-1zM355 331h1v2h-1zM356 330h1v1h-1zM357 329h1v1h-1zM358 329h1v1h-1zM359 328h1v1h-1zM360 327h1v1h-1zM361 327h1v1h-1zM362 326h1v1h-1zM363 326h1v1h-1zM364 325h1v1h-1zM365 324h1v1h-1zM366 323h1v1h-1zM367 323h1v1h-1zM368 322h1v1h-1zM369 321h1v1h-1zM370 320h1v1h-1zM371 320h1v1h-1zM372 319h1v1h-1zM373 318h1v1h-1zM374 317h1v1h-1zM375 316h1v1h-1zM376 315h1v1h-1zM377 315h1v1h-1zM378 314h1v1h-1zM379 313h1v1h-1zM380 312h1v1h-1zM381 311h1v1h-1zM382 310h1v1h-1zM383 310h1v1h-1zM384 309h1v1h-1zM385 308h1v1h-1zM386 307h1v1h-1zM387 307h1v1h-1zM388 306h1v1h-1zM389 306h1v1h-1zM390 306h1v1h-1zM391 306h1v1h-1zM392 306h1v1h-1zM393 306h1v1h-1zM394 306h1v1h-1zM395 306h1v1h-1zM396 306h1v1h-1zM397 306h1v1h-1zM398 307h1v1h-1zM399 307h1v1h-1zM400 307h1v1h-1zM401 307h1v1h-1zM402 308h1v1h-1zM403 308h1v1h-1zM404 308h1v1h-1zM405 308h1v1h-1zM406 309h1v1h-1zM407 309h1v1h-1zM408 310h1v1h-1zM409 310h1v1h-1zM410 310h1v1h-1zM411 311h1v1h-1zM412 311h1v1h-1zM413 311h1v1h-1zM414 311h1v1h-1zM415 311h1v1h-1zM416 312h1v1h-1zM417 312h1v1h-1zM418 312h1v1h-1zM419 312h1v1h-1zM420 312h1v1h-1zM421 313h1v1h-1zM422 314h1v1h-1zM423 315h1v1h-1zM424 316h1v1h-1zM425 316h1v1h-1zM426 317h1v1h-1zM427 318h1v1h-1zM428 319h1v1h-1zM429 320h1v1h-1zM430 320h1v1h-1zM431 321h1v1h-1zM432 322h1v1h-1zM433 322h1v1h-1zM434 323h1v1h-1zM435 323h1v1h-1zM436 324h1v1h-1zM437 325h1v1h-1zM438 326h1v1h-1zM439 327h1v1h-1zM440 328h1v1h-1zM441 328h1v1h-1zM442 329h1v1h-1zM443 330h1v1h-1zM444 331h1v1h-1zM445 331h1v1h-1zM446 332h1v1h-1zM447 332h1v1h-1zM448 332h1v1h-1zM449 332h1v1h-1zM450 333h1v1h-1zM451 333h1v1h-1zM452 333h1v1h-1zM453 332h1v1h-1zM454 332h1v1h-1zM455 331h1v1h-1zM456 330h1v1h-1zM457 330h1v1h-1zM458 329h1v1h-1zM459 329h1v1h-1zM460 328h1v1h-1zM461 328h1v1h-1zM462 327h1v1h-1zM463 327h1v1h-1zM464 327h1v1h-1zM465 327h1v1h-1zM466 326h1v1h-1zM467 326h1v1h-1zM468 326h1v1h-1zM469 325h1v1h-1zM470 325h1v1h-1zM471 324h1v1h-1zM472 323h1v1h-1zM473 323h1v1h-1zM474 322h1v1h-1zM475 322h1v1h-1zM476 321h1v1h-1zM477 320h1v1h-1zM478 320h1v1h-1zM479 319h1v1h-1zM480 318h1v1h-1zM481 318h1v1h-1zM482 317h1v1h-1zM483 317h1v1h-1zM484 316h1v1h-1zM485 315h1v1h-1zM486 314h1v1h-1zM487 313h1v1h-1zM488 312h1v1h-1zM489 312h1v1h-1zM490 311h1v1h-1zM491 310h1v1h-1zM492 309h1v1h-1zM493 309h1v1h-1zM494 308h1v1h-1zM495 308h1v1h-1zM496 308h1v1h-1zM497 308h1v1h-1zM498 307h1v1h-1zM499 307h1v1h-1zM500 307h1v1h-1zM501 308h1v1h-1zM502 308h1v1h-1zM503 309h1v1h-1zM504 309h1v1h-1zM505 310h1v1h-1zM506 310h1v1h-1zM507 311h1v1h-1zM508 311h1v1h-1zM509 311h1v1h-1zM510 311h1v1h-1zM511 311h1v1h-1zM512 311h1v1h-1zM513 311h1v1h-1zM514 311h1v1h-1zM515 311h1v1h-1zM516 311h1v1h-1zM517 312h1v1h-1zM518 313h1v1h-1zM519 314h1v1h-1zM520 315h1v2h-1zM521 317h1v1h-1zM522 318h1v1h-1zM523 319h1v1h-1zM524 320h1v1h-1zM525 321h1v1h-1zM526 322h1v1h-1zM527 322h1v1h-1zM528 323h1v1h-1zM529 324h1v1h-1zM530 325h1v1h-1zM531 325h1v1h-1zM532 326h1v1h-1zM533 327h1v1h-1zM534 328h1v1h-1zM535 328h1v1h-1zM536 329h1v1h-1zM537 330h1v1h-1zM538 331h1v1h-1zM539 331h1v1h-1zM540 332h1v1h-1zM541 333h1v1h-1zM542 334h1v1h-1zM543 335h1v1h-1zM544 336h1v2h-1zM545 338h1v1h-1zM546 339h1v1h-1zM547 340h1v1h-1zM548 341h1v1h-1zM549 342h1v1h-1zM550 343h1v1h-1zM551 344h1v1h-1zM552 345h1v2h-1zM553 347h1v1h-1zM554 348h1v1h-1zM555 349h1v1h-1zM556 350h1v1h-1zM557 351h1v2h-1zM558 353h1v2h-1zM559 355h1v2h-1zM560 357h1v2h-1zM561 359h1v2h-1zM562 361h1v2h-1zM563 363h1v2h-1zM564 365h1v3h-1zM565 368h1v2h-1zM566 370h1v2h-1zM567 372h1v3h-1zM568 375h1v2h-1zM569 377h1v3h-1zM570 380h1v2h-1zM571 382h1v2h-1zM572 384h1v2h-1zM573 386h1v2h-1zM574 388h1v2h-1zM575 390h1v1h-1zM576 391h1v2h-1zM577 393h1v1h-1zM578 394h1v2h-1zM579 396h1v2h-1zM580 398h1v1h-1zM581 399h1v2h-1zM582 401h1v2h-1zM583 403h1v2h-1zM584 405h1v1h-1zM585 406h1v2h-1zM586 408h1v2h-1zM587 410h1v2h-1zM588 412h1v1h-1zM589 413h1v2h-1zM590 415h1v1h-1zM591 416h1v1h-1zM592 417h1v2h-1zM593 419h1v1h-1zM594 420h1v1h-1zM595 421h1v2h-1zM596 423h1v1h-1zM597 424h1v2h-1zM598 426h1v1h-1zM599 427h1v2h-1zM600 429h1v1h-1zM601 430h1v2h-1zM602 432h1v1h-1zM603 433h1v2h-1zM604 435h1v1h-1zM605 436h1v1h-1zM606 437h1v1h-1zM607 438h1v1h-1zM608 439h1v1h-1zM609 440h1v1h-1zM610 441h1v1h-1zM611 442h1v1h-1zM612 443h1v1h-1zM613 443h1v1h-1zM614 443h1v1h-1zM615 443h1v1h-1zM616 444h1v1h-1zM617 444h1v1h-1zM618 444h1v1h-1zM619 444h1v1h-1zM620 444h1v1h-1zM621 445h1v1h-1zM622 445h1v1h-1zM623 446h1v1h-1zM624 446h1v1h-1zM625 447h1v1h-1zM626 447h1v1h-1zM627 448h1v1h-1zM628 448h1v1h-1zM629 447h1v1h-1zM630 446h1v1h-1zM631 445h1v1h-1zM632 443h1v2h-1zM633 442h1v1h-1zM634 441h1v1h-1zM635 440h1v1h-1zM636 439h1v1h-1zM637 438h1v1h-1zM638 437h1v1h-1zM639 437h1v1h-1zM640 436h1v1h-1zM641 435h1v1h-1zM642 434h1v1h-1zM643 434h1v1h-1zM644 433h1v1h-1zM645 433h1v1h-1zM646 433h1v1h-1zM647 433h1v1h-1zM648 433h1v1h-1zM649 433h1v1h-1zM650 433h1v1h-1zM651 433h1v1h-1zM652 433h1v1h-1zM653 433h1v1h-1zM654 433h1v1h-1zM655 433h1v1h-1zM656 434h1v1h-1zM657 434h1v1h-1zM658 434h1v1h-1zM659 434h1v1h-1zM660 434h1v1h-1zM661 433h1v1h-1zM662 433h1v1h-1zM663 432h1v1h-1zM664 431h1v1h-1zM665 431h1v1h-1zM666 430h1v1h-1zM667 430h1v1h-1zM668 429h1v1h-1zM669 428h1v1h-1zM670 427h1v1h-1zM671 426h1v1h-1zM672 425h1v1h-1zM673 424h1v1h-1zM674 423h1v1h-1zM675 422h1v1h-1zM676 421h1v1h-1zM677 420h1v1h-1zM678 419h1v1h-1zM679 418h1v1h-1zM680 416h1v2h-1zM681 415h1v1h-1zM682 414h1v1h-1zM683 413h1v1h-1zM684 412h1v1h-1zM685 411h1v1h-1zM686 410h1v1h-1zM687 409h1v1h-1zM688 408h1v1h-1zM689 407h1v1h-1zM690 406h1v1h-1zM691 405h1v1h-1zM692 404h1v1h-1zM693 402h1v2h-1zM694 400h1v2h-1zM695 399h1v1h-1zM696 397h1v2h-1zM697 396h1v1h-1zM698 394h1v2h-1zM699 392h1v2h-1zM700 391h1v1h-1zM701 390h1v1h-1zM702 388h1v2h-1zM703 387h1v1h-1zM704 386h1v1h-1zM705 385h1v1h-1zM706 383h1v2h-1zM707 382h1v1h-1zM708 381h1v1h-1zM709 380h1v1h-1zM710 378h1v2h-1zM711 377h1v1h-1zM712 376h1v1h-1zM713 375h1v1h-1zM714 373h1v2h-1zM715 372h1v1h-1zM716 371h1v1h-1zM717 370h1v1h-1zM718 369h1v1h-1zM719 369h1v1h-1zM720 368h1v1h-1zM721 367h1v1h-1zM722 366h1v1h-1zM723 366h1v1h-1zM724 365h1v1h-1zM725 365h1v1h-1zM726 365h1v1h-1zM727 365h1v1h-1zM728 366h1v1h-1zM729 366h1v1h-1zM730 366h1v1h-1zM731 366h1v1h-1zM732 366h1v1h-1zM733 365h1v1h-1zM734 364h1v1h-1zM735 363h1v1h-1zM736 362h1v1h-1zM737 362h1v1h-1zM738 361h1v1h-1zM739 360h1v1h-1zM740 359h1v1h-1zM741 358h1v1h-1zM742 358h1v1h-1zM743 357h1v1h-1zM744 357h1v1h-1zM745 356h1v1h-1zM746 356h1v1h-1zM747 355h1v1h-1zM748 355h1v1h-1zM749 354h1v1h-1zM750 354h1v1h-1zM751 353h1v1h-1zM752 353h1v1h-1zM753 352h1v1h-1zM754 352h1v1h-1zM755 351h1v1h-1zM756 351h1v1h-1zM757 349h1v2h-1zM758 347h1v2h-1zM759 345h1v2h-1zM760 344h1v1h-1zM761 342h1v2h-1zM762 340h1v2h-1zM763 338h1v2h-1zM764 337h1v1h-1zM765 335h1v2h-1zM766 333h1v2h-1zM767 331h1v2h-1zM768 329h1v2h-1zM769 327h1v2h-1zM770 325h1v2h-1zM771 323h1v2h-1zM772 322h1v1h-1zM773 320h1v2h-1zM774 319h1v1h-1zM775 318h1v1h-1zM776 316h1v2h-1zM777 315h1v1h-1zM778 314h1v1h-1zM779 312h1v2h-1zM780 311h1v1h-1zM781 310h1v1h-1zM782 309h1v1h-1zM783 308h1v1h-1zM784 307h1v1h-1zM785 307h1v1h-1zM786 306h1v1h-1zM787 305h1v1h-1zM788 304h1v1h-1zM789 303h1v1h-1zM790 302h1v1h-1zM791 301h1v1h-1zM792 300h1v1h-1zM793 299h1v1h-1zM794 298h1v1h-1zM795 297h1v1h-1zM796 296h1v1h-1zM797 296h1v1h-1zM798 296h1v1h-1zM799 296h1v1h-1zM800 296h1v1h-1zM801 296h1v1h-1zM802 296h1v1h-1zM803 296h1v1h-1zM804 296h1v1h-1zM805 296h1v1h-1zM806 295h1v1h-1zM807 295h1v1h-1zM808 295h1v1h-1zM809 295h1v1h-1zM810 294h1v1h-1zM811 294h1v1h-1zM812 294h1v1h-1zM813 294h1v1h-1zM814 293h1v1h-1zM815 293h1v1h-1zM816 293h1v1h-1zM817 293h1v1h-1zM818 292h1v1h-1zM819 292h1v1h-1zM820 292h1v1h-1zM821 291h1v1h-1zM822 291h1v1h-1zM823 290h1v1h-1zM824 289h1v1h-1zM825 289h1v1h-1zM826 288h1v1h-1zM827 288h1v1h-1zM828 287h1v1h-1zM829 286h1v1h-1zM830 286h1v1h-1zM831 285h1v1h-1zM832 284h1v1h-1zM833 284h1v1h-1zM834 283h1v1h-1zM835 283h1v1h-1zM836 282h1v1h-1zM837 281h1v1h-1zM838 280h1v1h-1zM839 279h1v1h-1zM840 277h1v2h-1zM841 276h1v1h-1zM842 275h1v1h-1zM843 274h1v1h-1zM844 273h1v1h-1zM845 273h1v1h-1zM846 272h1v1h-1zM847 272h1v1h-1zM848 271h1v1h-1zM849 271h1v1h-1zM850 271h1v1h-1zM851 270h1v1h-1zM852 270h1v1h-1zM853 270h1v1h-1zM854 269h1v1h-1zM855 269h1v1h-1zM856 269h1v1h-1zM857 269h1v1h-1zM858 268h1v1h-1zM859 268h1v1h-1zM860 268h1v1h-1zM861 268h1v1h-1zM862 269h1v1h-1zM863 269h1v1h-1zM864 269h1v1h-1zM865 269h1v1h-1zM866 270h1v1h-1zM867 270h1v1h-1zM868 270h1v1h-1zM869 270h1v1h-1zM870 270h1v1h-1zM871 270h1v1h-1zM872 271h1v1h-1zM873 271h1v1h-1zM874 271h1v1h-1zM875 271h1v1h-1zM876 271h1v1h-1zM877 271h1v1h-1zM878 270h1v1h-1zM879 270h1v1h-1zM880 270h1v1h-1zM881 270h1v1h-1zM882 269h1v1h-1zM883 269h1v1h-1zM884 269h1v1h-1zM885 269h1v1h-1zM886 270h1v1h-1zM887 270h1v1h-1zM888 270h1v1h-1zM889 270h1v1h-1zM890 271h1v1h-1zM891 271h1v1h-1zM892 271h1v1h-1zM893 271h1v1h-1zM894 271h1v1h-1zM895 271h1v1h-1zM896 271h1v1h-1zM897 271h1v1h-1zM898 271h1v1h-1zM899 271h1v1h-1zM900 271h1v1h-1zM901 270h1v1h-1zM902 270h1v1h-1zM903 269h1v1h-1zM904 268h1v1h-1zM905 268h1v1h-1zM906 267h1v1h-1zM907 267h1v1h-1zM908 266h1v1h-1zM909 265h1v1h-1zM910 265h1v1h-1zM911 264h1v1h-1zM912 263h1v1h-1zM913 263h1v1h-1zM914 262h1v1h-1zM915 262h1v1h-1zM916 261h1v1h-1zM917 261h1v1h-1zM918 260h1v1h-1zM919 260h1v1h-1zM920 259h1v1h-1zM921 259h1v1h-1zM922 259h1v1h-1zM923 258h1v1h-1zM924 258h1v1h-1zM925 257h1v1h-1zM926 257h1v1h-1zM927 256h1v1h-1zM928 256h1v1h-1zM929 255h1v1h-1zM930 255h1v1h-1zM931 254h1v1h-1zM932 254h1v1h-1zM933 254h1v1h-1zM934 254h1v1h-1zM935 254h1v1h-1zM936 255h1v1h-1zM937 255h1v1h-1zM938 255h1v1h-1zM939 255h1v1h-1zM940 255h1v1h-1zM941 255h1v1h-1zM942 255h1v1h-1zM943 255h1v1h-1zM944 254h1v1h-1zM945 254h1v1h-1zM946 254h1v1h-1zM947 254h1v1h-1zM948 254h1v1h-1zM949 254h1v1h-1zM950 253h1v1h-1zM951 253h1v1h-1zM952 253h1v1h-1zM953 253h1v1h-1zM954 252h1v1h-1zM955 252h1v1h-1zM956 252h1v1h-1zM957 252h1v1h-1zM958 252h1v1h-1zM959 252h1v1h-1zM960 251h1v1h-1zM961 251h1v1h-1zM962 251h1v1h-1zM963 251h1v1h-1zM964 251h1v1h-1zM965 251h1v1h-1zM966 250h1v1h-1zM967 250h1v1h-1zM968 249h1v1h-1zM969 249h1v1h-1zM970 249h1v1h-1zM971 248h1v1h-1zM972 248h1v1h-1zM973 247h1v1h-1zM974 246h1v1h-1zM975 245h1v1h-1zM976 244h1v1h-1zM977 244h1v1h-1zM978 243h1v1h-1zM979 242h1v1h-1zM980 241h1v1h-1zM981 240h1v1h-1zM982 240h1v1h-1zM983 239h1v1h-1zM984 238h1v1h-1zM985 238h1v1h-1zM986 237h1v1h-1zM987 237h1v1h-1zM988 236h1v1h-1zM989 235h1v1h-1zM990 235h1v1h-1zM991 234h1v1h-1zM992 234h1v1h-1zM993 233h1v1h-1zM994 233h1v1h-1zM995 232h1v1h-1zM996 232h1v1h-1zM997 231h1v1h-1zM998 231h1v1h-1zM999 230h1v1h-1zM1000 229h1v1h-1zM1001 229h1v1h-1zM1002 228h1v1h-1zM1003 228h1v1h-1zM1004 227h1v1h-1zM1005 226h1v1h-1zM1006 225h1v1h-1zM1007 225h1v1h-1zM1008 224h1v1h-1zM1009 223h1v1h-1zM1010 222h1v1h-1zM1011 222h1v1h-1zM1012 221h1v1h-1zM1013 221h1v1h-1zM1014 222h1v1h-1zM1015 222h1v1h-1zM1016 223h1v1h-1zM1017 223h1v1h-1zM1018 223h1v1h-1zM1019 224h1v1h-1zM1020 224h1v1h-1zM1021 225h1v1h-1zM1022 225h1v1h-1zM1023 226h1v1h-1zM1024 226h1v1h-1zM1025 227h1v1h-1zM1026 227h1v1h-1zM1027 228h1v1h-1zM1028 228h1v1h-1zM1029 229h1v1h-1zM1030 230h1v1h-1zM1031 231h1v1h-1zM1032 232h1v2h-1zM1033 234h1v1h-1zM1034 235h1v1h-1zM1035 236h1v1h-1zM1036 237h1v1h-1zM1037 238h1v1h-1zM1038 239h1v2h-1zM1039 241h1v1h-1zM1040 242h1v1h-1zM1041 243h1v1h-1zM1042 244h1v2h-1zM1043 246h1v1h-1zM1044 247h1v1h-1zM1045 248h1v1h-1zM1046 249h1v1h-1zM1047 250h1v1h-1zM1048 251h1v1h-1zM1049 251h1v1h-1zM1050 252h1v1h-1zM1051 253h1v1h-1zM1052 254h1v1h-1zM1053 255h1v1h-1zM1054 255h1v1h-1zM1055 256h1v1h-1zM1056 256h1v1h-1zM1057 257h1v1h-1zM1058 257h1v1h-1zM1059 258h1v1h-1zM1060 258h1v1h-1zM1061 258h1v1h-1zM1062 259h1v1h-1zM1063 259h1v1h-1zM1064 260h1v1h-1zM1065 260h1v1h-1zM1066 260h1v1h-1zM1067 261h1v1h-1zM1068 261h1v1h-1zM1069 261h1v1h-1zM1070 261h1v1h-1zM1071 261h1v1h-1zM1072 261h1v1h-1zM1073 261h1v1h-1zM1074 261h1v1h-1zM1075 261h1v1h-1zM1076 261h1v1h-1zM1077 261h1v1h-1zM1078 261h1v1h-1zM1079 261h1v1h-1zM1080 260h1v1h-1zM1081 260h1v1h-1zM1082 260h1v1h-1zM1083 260h1v1h-1zM1084 260h1v1h-1zM1085 260h1v1h-1zM1086 261h1v1h-1zM1087 261h1v1h-1zM1088 261h1v1h-1zM1089 261h1v1h-1zM1090 262h1v1h-1zM1091 262h1v1h-1zM1092 262h1v1h-1zM1093 262h1v1h-1zM1094 262h1v1h-1zM1095 262h1v1h-1zM1096 263h1v1h-1zM1097 263h1v1h-1zM1098 263h1v1h-1zM1099 263h1v1h-1zM1100 263h1v1h-1zM1101 264h1v1h-1zM1102 264h1v1h-1zM1103 265h1v1h-1zM1104 265h1v1h-1zM1105 266h1v1h-1zM1106 266h1v1h-1zM1107 267h1v1h-1zM1108 267h1v1h-1zM1109 267h1v1h-1zM1110 268h1v1h-1zM1111 268h1v1h-1zM1112 268h1v1h-1zM1113 268h1v1h-1zM1114 269h1v1h-1zM1115 269h1v1h-1zM1116 269h1v1h-1z" fill="#ff0000"/>
<path d="M4 21h1v1h-1zM5 22h1v1h-1zM6 23h1v1h-1zM7 24h1v1h-1zM8 25h1v1h-1zM9 26h1v1h-1zM10 27h1v1h-1zM11 28h1v1h-1zM12 29h1v1h-1zM13 30h1v1h-1zM14 30h1v1h-1zM15 31h1v1h-1zM16 32h1v1h-1zM17 33h1v1h-1zM18 34h1v1h-1zM19 35h1v1h-1zM20 36h1v1h-1zM21 37h1v1h-1zM22 38h1v1h-1zM23 39h1v1h-1zM24 40h1v1h-1zM25 41h1v1h-1zM26 42h1v1h-1zM27 43h1v1h-1zM28 44h1v1h-1zM29 45h1v1h-1zM30 46h1v1h-1zM31 47h1v1h-1zM32 48h1v1h-1zM33 49h1v1h-1zM34 50h1v1h-1zM35 51h1v1h-1zM36 52h1v1h-1zM37 53h1v1h-1zM38 54h1v1h-1zM39 55h1v1h-1zM40 56h1v1h-1zM41 57h1v1h-1zM42 58h1v1h-1zM43 59h1v1h-1zM44 60h1v1h-1zM45 61h1v1h-1zM46 62h1v1h-1zM47 63h1v1h-1zM48 64h1v1h-1zM49 65h1v1h-1zM50 66h1v1h-1zM51 67h1v1h-1zM52 68h1v1h-1zM53 69h1v1h-1zM54 70h1v1h-1zM55 71h1v1h-1zM56 72h1v1h-1zM57 73h1v1h-1zM58 74h1v1h-1zM59 75h1v1h-1zM60 76h1v1h-1zM61 77h1v1h-1zM62 78h1v1h-1zM63 79h1v1h-1zM64 80h1v1h-1zM65 81h1v1h-1zM66 82h1v1h-1zM67 83h1v1h-1zM68 84h1v1h-1zM69 85h1v1h-1zM70 86h1v1h-1zM71 87h1v1h-1zM72 88h1v1h-1zM73 89h1v1h-1zM74 90h1v1h-1zM75 91h1v1h-1zM76 92h1v1h-1zM77 93h1v1h-1zM78 94h1v1h-1zM79 95h1v1h-1zM80 96h1v1h-1zM81 97h1v1h-1zM82 98h1v1h-1zM83 99h1v1h-1zM84 100h1v1h-1zM85 101h1v1h-1zM86 102h1v1h-1zM87 103h1v1h-1zM88 104h1v1h-1zM89 105h1v1h-1zM90 106h1v1h-1zM91 107h1v1h-1zM92 108h1v1h-1zM93 109h1v2h-1zM94 111h1v1h-1zM95 112h1v1h-1zM96 113h1v1h-1zM97 114h1v1h-1zM98 115h1v1h-1zM99 116h1v1h-1zM100 117h1v1h-1zM101 118h1v2h-1zM102 120h1v1h-1zM103 121h1v1h-1zM104 122h1v1h-1zM105 123h1v1h-1zM106 124h1v1h-1zM107 125h1v1h-1zM108 126h1v1h-1zM109 127h1v1h-1zM110 128h1v1h-1zM111 129h1v1h-1zM112 130h1v1h-1zM113 131h1v2h-1zM114 133h1v1h-1zM115 134h1v1h-1zM116 135h1v1h-1zM117 136h1v1h-1zM118 137h1v1h-1zM119 138h1v1h-1zM120 139h1v1h-1zM121 140h1v2h-1zM122 142h1v1h-1zM123 143h1v1h-1zM124 144h1v1h-1zM125 145h1v2h-1zM126 147h1v1h-1zM127 148h1v1h-1zM128 149h1v2h-1zM129 151h1v1h-1zM130 152h1v1h-1zM131 153h1v1h-1zM132 154h1v2h-1zM133 156h1v1h-1zM134 157h1v1h-1zM135 158h1v2h-1zM136 160h1v1h-1zM137 161h1v1h-1zM138 162h1v2h-1zM139 164h1v1h-1zM140 165h1v1h-1zM141 166h1v1h-1zM142 167h1v1h-1zM143 168h1v2h-1zM144 170h1v1h-1zM145 171h1v1h-1zM146 172h1v1h-1zM147 173h1v1h-1zM148 174h1v2h-1zM149 176h1v1h-1zM150 177h1v1h-1zM151 178h1v1h-1zM152 179h1v1h-1zM153 180h1v1h-1zM154 181h1v1h-1zM155 182h1v1h-1zM156 183h1v1h-1zM157 184h1v1h-1zM158 185h1v1h-1zM159 186h1v1h-1zM160 187h1v1h-1zM161 188h1v1h-1zM162 188h1v1h-1zM163 189h1v1h-1zM164 190h1v1h-1zM165 191h1v1h-1zM166 192h1v1h-1zM167 193h1v1h-1zM168 194h1v1h-1zM169 195h1v1h-1zM170 196h1v1h-1zM171 197h1v1h-1zM172 198h1v1h-1zM173 198h1v1h-1zM174 199h1v1h-1zM175 199h1v1h-1zM176 200h1v1h-1zM177 200h1v1h-1zM178 201h1v1h-1zM179 201h1v1h-1zM180 202h1v1h-1zM181 202h1v1h-1zM182 203h1v1h-1zM183 203h1v1h-1zM184 204h1v1h-1zM185 204h1v1h-1zM186 205h1v1h-1zM187 205h1v1h-1zM188 206h1v1h-1zM189 206h1v1h-1zM190 206h1v1h-1zM191 206h1v1h-1zM192 206h1v1h-1zM193 206h1v1h-1zM194 207h1v1h-1zM195 207h1v1h-1zM196 207h1v1h-1zM197 207h1v1h-1zM198 207h1v1h-1zM199 208h1v1h-1zM200 209h1v1h-1zM201 210h1v1h-1zM202 211h1v1h-1zM203 212h1v1h-1zM204 212h1v1h-1zM205 213h1v1h-1zM206 214h1v1h-1zM207 215h1v1h-1zM208 216h1v1h-1zM209 217h1v2h-1zM210 219h1v2h-1zM211 221h1v2h-1zM212 223h1v2h-1zM213 225h1v2h-1zM214 227h1v2h-1zM215 229h1v2h-1zM216 231h1v2h-1zM217 233h1v2h-1zM218 235h1v2h-1zM219 237h1v2h-1zM220 239h1v2h-1zM221 241h1v2h-1zM222 243h1v2h-1zM223 245h1v2h-1zM224 247h1v2h-1zM225 249h1v2h-1zM226 251h1v2h-1zM227 253h1v2h-1zM228 255h1v2h-1zM229 257h1v2h-1zM230 259h1v2h-1zM231 261h1v3h-1zM232 264h1v2h-1zM233 266h1v3h-1zM234 269h1v2h-1zM235 271h1v2h-1zM236 273h1v2h-1zM237 275h1v2h-1zM238 277h1v2h-1zM239 279h1v1h-1zM240 280h1v2h-1zM241 282h1v1h-1zM242 283h1v2h-1zM243 285h1v2h-1zM244 287h1v1h-1zM245 288h1v2h-1zM246 290h1v1h-1zM247 291h1v1h-1zM248 292h1v2h-1zM249 294h1v1h-1zM250 295h1v1h-1zM251 296h1v2h-1zM252 298h1v1h-1zM253 299h1v1h-1zM254 300h1v1h-1zM255 301h1v1h-1zM256 302h1v1h-1zM257 303h1v1h-1zM258 304h1v1h-1zM259 305h1v1h-1zM260 306h1v1h-1zM261 307h1v1h-1zM262 308h1v1h-1zM263 309h1v1h-1zM264 310h1v2h-1zM265 312h1v1h-1zM266 313h1v1h-1zM267 314h1v1h-1zM268 315h1v1h-1zM269 316h1v1h-1zM270 317h1v1h-1zM271 318h1v1h-1zM272 319h1v1h-1zM273 320h1v1h-1zM274 321h1v1h-1zM275 322h1v1h-1zM276 323h1v1h-1zM277 323h1v1h-1zM278 324h1v1h-1zM279 324h1v1h-1zM280 324h1v1h-1zM281 324h1v1h-1zM282 325h1v1h-1zM283 325h1v1h-1zM284 325h1v1h-1zM285 325h1v1h-1zM286 325h1v1h-1zM287 325h1v1h-1zM288 325h1v1h-1zM289 325h1v1h-1zM290 325h1v1h-1zM291 325h1v1h-1zM292 325h1v1h-1zM293 325h1v1h-1zM294 326h1v1h-1zM295 326h1v1h-1zM296 327h1v1h-1zM297 327h1v1h-1zM298 327h1v1h-1zM299 328h1v1h-1zM300 328h1v1h-1zM301 328h1v1h-1zM302 329h1v1h-1zM303 329h1v1h-1zM304 329h1v1h-1zM305 329h1v1h-1zM306 330h1v1h-1zM307 330h1v1h-1zM308 330h1v1h-1zM309 330h1v1h-1zM310 330h1v1h-1zM311 330h1v1h-1zM312 330h1v1h-1zM313 330h1v1h-1zM314 330h1v1h-1zM315 330h1v1h-1zM316 330h1v1h-1zM317 330h1v1h-1zM318 331h1v1h-1zM319 331h1v1h-1zM320 331h1v1h-1zM321 331h1v1h-1zM322 332h1v1h-1zM323 332h1v1h-1zM324 332h1v1h-1zM325 332h1v1h-1zM326 332h1v1h-1zM327 332h1v1h-1zM328 332h1v1h-1zM329 332h1v1h-1zM330 332h1v1h-1zM331 332h1v1h-1zM332 332h1v1h-1zM333 332h1v1h-1zM334 333h1v1h-1zM335 333h1v1h-1zM336 334h1v1h-1zM337 334h1v1h-1zM338 334h1v1h-1zM339 335h1v1h-1zM340 335h1v1h-1zM341 336h1v1h-1zM342 336h1v1h-1zM343 337h1v1h-1zM344 338h1v1h-1zM345 338h1v1h-1zM346 339h1v1h-1zM347 339h1v1h-1zM348 340h1v1h-1zM349 341h1v1h-1zM350 341h1v1h-1zM351 342h1v1h-1zM352 342h1v1h-1zM353 343h1v1h-1zM354 343h1v1h-1zM355 344h1v1h-1zM356 344h1v1h-1zM357 345h1v1h-1zM358 346h1v1h-1zM359 347h1v1h-1zM360 348h1v2h-1zM361 350h1v1h-1zM362 351h1v1h-1zM363 352h1v1h-1zM364 353h1v1h-1zM365 354h1v1h-1zM366 354h1v1h-1zM367 355h1v1h-1zM368 355h1v1h-1zM369 356h1v1h-1zM370 356h1v1h-1zM371 357h1v1h-1zM372 357h1v1h-1zM373 357h1v1h-1zM374 356h1v1h-1zM375 356h1v1h-1zM376 356h1v1h-1zM377 356h1v1h-1zM378 355h1v1h-1zM379 355h1v1h-1zM380 355h1v1h-1zM381 354h1v1h-1zM382 354h1v1h-1zM383 353h1v1h-1zM384 352h1v1h-1zM385 352h1v1h-1zM386 351h1v1h-1zM387 351h1v1h-1zM388 350h1v1h-1zM389 349h1v1h-1zM390 348h1v1h-1zM391 348h1v1h-1zM392 347h1v1h-1zM393 346h1v1h-1zM394 345h1v1h-1zM395 345h1v1h-1zM396 344h1v1h-1zM397 343h1v1h-1zM398 342h1v1h-1zM399 342h1v1h-1zM400 341h1v1h-1zM401 340h1v1h-1zM402 339h1v1h-1zM403 339h1v1h-1zM404 338h1v1h-1zM405 337h1v1h-1zM406 337h1v1h-1zM407 336h1v1h-1zM408 336h1v1h-1zM409 335h1v1h-1zM410 335h1v1h-1zM411 334h1v1h-1zM412 334h1v1h-1zM413 334h1v1h-1zM414 333h1v1h-1zM415 333h1v1h-1zM416 332h1v1h-1zM417 332h1v1h-1zM418 332h1v1h-1zM419 331h1v1h-1zM420 331h1v1h-1zM421 331h1v1h-1zM422 330h1v1h-1zM423 330h1v1h-1zM424 329h1v1h-1zM425 329h1v1h-1zM426 329h1v1h-1zM427 328h1v1h-1zM428 328h1v1h-1zM429 327h1v1h-1zM430 327h1v1h-1zM431 326h1v1h-1zM432 325h1v1h-1zM433 325h1v1h-1zM434 324h1v1h-1zM435 324h1v1h-1zM436 323h1v1h-1zM437 323h1v1h-1zM438 322h1v1h-1zM439 322h1v1h-1zM440 322h1v1h-1zM441 322h1v1h-1zM442 321h1v1h-1zM443 321h1v1h-1zM444 321h1v1h-1zM445 321h1v1h-1zM446 320h1v1h-1zM447 320h1v1h-1zM448 320h1v1h-1zM449 320h1v1h-1zM450 319h1v1h-1zM451 319h1v1h-1zM452 319h1v1h-1zM453 318h1v1h-1zM454 318h1v1h-1zM455 317h1v1h-1zM456 316h1v1h-1zM457 316h1v1h-1zM458 315h1v1h-1zM459 315h1v1h-1zM460 314h1v1h-1zM461 313h1v1h-1zM462 313h1v1h-1zM463 312h1v1h-1zM464 312h1v1h-1zM465 311h1v1h-1zM466 311h1v1h-1zM467 310h1v1h-1zM468 310h1v1h-1zM469 310h1v1h-1zM470 309h1v1h-1zM471 309h1v1h-1zM472 308h1v1h-1zM473 308h1v1h-1zM474 308h1v1h-1zM475 307h1v1h-1zM476 307h1v1h-1zM477 307h1v1h-1zM478 307h1v1h-1zM479 307h1v1h-1zM480 308h1v1h-1zM481 308h1v1h-1zM482 308h1v1h-1zM483 308h1v1h-1zM484 308h1v1h-1zM485 308h1v1h-1zM486 307h1v1h-1zM487 307h1v1h-1zM488 307h1v1h-1zM489 307h1v1h-1zM490 306h1v1h-1zM491 306h1v1h-1zM492 306h1v1h-1zM493 306h1v1h-1zM494 307h1v1h-1zM495 307h1v1h-1zM496 308h1v1h-1zM497 308h1v1h-1zM498 308h1v1h-1zM499 309h1v1h-1zM500 309h1v1h-1zM501 310h1v1h-1zM502 310h1v1h-1zM503 311h1v1h-1zM504 312h1v1h-1zM505 312h1v1h-1zM506 313h1v1h-1zM507 313h1v1h-1zM508 314h1v1h-1zM509 314h1v1h-1zM510 315h1v1h-1zM511 315h1v1h-1zM512 316h1v1h-1zM513 316h1v1h-1zM514 316h1v1h-1zM515 317h1v1h-1zM516 317h1v1h-1zM517 318h1v2h-1zM518 320h1v1h-1zM519 321h1v1h-1zM520 322h1v2h-1zM521 324h1v1h-1zM522 325h1v1h-1zM523 326h1v2h-1zM524 328h1v1h-1zM525 329h1v1h-1zM526 329h1v1h-1zM527 330h1v1h-1zM528 330h1v1h-1zM529 331h1v1h-1zM530 331h1v1h-1zM531 332h1v1h-1zM532 332h1v1h-1zM533 333h1v1h-1zM534 333h1v1h-1zM535 334h1v1h-1zM536 335h1v1h-1zM537 335h1v1h-1zM538 336h1v1h-1zM539 336h1v1h-1zM540 337h1v1h-1zM541 338h1v1h-1zM542 338h1v1h-1zM543 339h1v1h-1zM544 340h1v1h-1zM545 340h1v1h-1zM546 341h1v1h-1zM547 341h1v1h-1zM548 342h1v1h-1zM549 343h1v1h-1zM550 344h1v1h-1zM551 345h1v1h-1zM552 346h1v2h-1zM553 348h1v1h-1zM554 349h1v1h-1zM555 350h1v1h-1zM556 351h1v1h-1zM557 352h1v1h-1zM558 353h1v1h-1zM559 354h1v1h-1zM560 355h1v1h-1zM561 356h1v1h-1zM562 357h1v1h-1zM563 358h1v1h-1zM564 359h1v1h-1zM565 360h1v1h-1zM566 361h1v1h-1zM567 361h1v1h-1zM568 362h1v1h-1zM569 363h1v1h-1zM570 364h1v1h-1zM571 364h1v1h-1zM572 365h1v1h-1zM573 366h1v1h-1zM574 366h1v1h-1zM575 367h1v1h-1zM576 367h1v1h-1zM577 368h1v1h-1zM578 368h1v1h-1zM579 369h1v1h-1zM580 369h1v1h-1zM581 370h1v1h-1zM582 370h1v1h-1zM583 371h1v1h-1zM584 372h1v1h-1zM585 372h1v1h-1zM586 373h1v1h-1zM587 373h1v1h-1zM588 374h1v1h-1zM589 374h1v1h-1zM590 375h1v1h-1zM591 375h1v1h-1zM592 376h1v1h-1zM593 376h1v1h-1zM594 376h1v1h-1zM595 377h1v1h-1zM596 377h1v1h-1zM597 378h1v1h-1zM598 378h1v1h-1zM599 379h1v1h-1zM600 379h1v1h-1zM601 380h1v1h-1zM602 380h1v1h-1zM603 381h1v1h-1zM604 381h1v1h-1zM605 381h1v1h-1zM606 382h1v1h-1zM607 382h1v1h-1zM608 383h1v1h-1zM609 383h1v1h-1zM610 383h1v1h-1zM611 384h1v1h-1zM612 384h1v1h-1zM613 385h1v1h-1zM614 385h1v1h-1zM615 386h1v1h-1zM616 386h1v1h-1zM617 387h1v1h-1zM618 387h1v1h-1zM619 388h1v1h-1zM620 388h1v1h-1zM621 389h1v1h-1zM622 390h1v1h-1zM623 391h1v1h-1zM624 392h1v2h-1zM625 394h1v1h-1zM626 395h1v1h-1zM627 396h1v1h-1zM628 397h1v1h-1zM629 398h1v1h-1zM630 399h1v1h-1zM631 399h1v1h-1zM632 400h1v1h-1zM633 401h1v1h-1zM634 402h1v1h-1zM635 402h1v1h-1zM636 403h1v1h-1zM637 404h1v1h-1zM638 404h1v1h-1zM639 405h1v1h-1zM640 405h1v1h-1zM641 406h1v1h-1zM642 406h1v1h-1zM643 407h1v1h-1zM644 407h1v1h-1zM645 408h1v1h-1zM646 409h1v1h-1zM647 410h1v1h-1zM648 411h1v1h-1zM649 412h1v1h-1zM650 413h1v1h-1zM651 414h1v1h-1zM652 415h1v1h-1zM653 416h1v2h-1zM654 418h1v1h-1zM655 419h1v1h-1zM656 420h1v2h-1zM657 422h1v1h-1zM658 423h1v1h-1zM659 424h1v2h-1zM660 426h1v1h-1zM661 427h1v1h-1zM662 428h1v1h-1zM663 428h1v1h-1zM664 429h1v1h-1zM665 430h1v1h-1zM666 431h1v1h-1zM667 431h1v1h-1zM668 432h1v1h-1zM669 432h1v1h-1zM670 432h1v1h-1zM671 432h1v1h-1zM672 432h1v1h-1zM673 432h1v1h-1zM674 432h1v1h-1zM675 432h1v1h-1zM676 432h1v1h-1zM677 432h1v1h-1zM678 432h1v1h-1zM679 432h1v1h-1zM680 433h1v1h-1zM681 433h1v1h-1zM682 433h1v1h-1zM683 433h1v1h-1zM684 433h1v1h-1zM685 432h1v1h-1zM686 431h1v1h-1zM687 430h1v1h-1zM688 429h1v1h-1zM689 428h1v1h-1zM690 427h1v1h-1zM691 426h1v1h-1zM692 425h1v1h-1zM693 424h1v1h-1zM694 423h1v1h-1zM695 422h1v1h-1zM696 421h1v1h-1zM697 420h1v1h-1zM698 419h1v1h-1zM699 418h1v1h-1zM700 417h1v1h-1zM701 416h1v1h-1zM702 415h1v1h-1zM703 414h1v1h-1zM704 413h1v1h-1zM705 413h1v1h-1zM706 412h1v1h-1zM707 411h1v1h-1zM708 410h1v1h-1zM709 409h1v1h-1zM710 408h1v1h-1zM711 407h1v1h-1zM712 405h1v2h-1zM713 404h1v1h-1zM714 403h1v1h-1zM715 402h1v1h-1zM716 401h1v1h-1zM717 400h1v1h-1zM718 399h1v1h-1zM719 398h1v1h-1zM720 397h1v1h-1zM721 396h1v1h-1zM722 395h1v1h-1zM723 394h1v1h-1zM724 393h1v1h-1zM725 392h1v1h-1zM726 392h1v1h-1zM727 391h1v1h-1zM728 390h1v1h-1zM729 390h1v1h-1zM730 389h1v1h-1zM731 389h1v1h-1zM732 388h1v1h-1zM733 387h1v1h-1zM734 386h1v1h-1zM735 385h1v1h-1zM736 384h1v1h-1zM737 383h1v1h-1zM738 382h1v1h-1zM739 381h1v1h-1zM740 380h1v1h-1zM741 379h1v1h-1zM742 378h1v1h-1zM743 378h1v1h-1zM744 377h1v1h-1zM745 376h1v1h-1zM746 375h1v1h-1zM747 375h1v1h-1zM748 374h1v1h-1zM749 373h1v1h-1zM750 372h1v1h-1zM751 371h1v1h-1zM752 370h1v1h-1zM753 369h1v1h-1zM754 368h1v1h-1zM755 367h1v1h-1zM756 366h1v1h-1zM757 365h1v1h-1zM758 364h1v1h-1zM759 363h1v1h-1zM760 362h1v1h-1zM761 361h1v1h-1zM762 360h1v1h-1zM763 359h1v1h-1zM764 358h1v1h-1zM765 357h1v1h-1zM766 356h1v1h-1zM767 355h1v1h-1zM768 354h1v1h-1zM769 354h1v1h-1zM770 353h1v1h-1zM771 352h1v1h-1zM772 351h1v1h-1zM773 350h1v1h-1zM774 349h1v1h-1zM775 348h1v1h-1zM776 347h1v1h-1zM777 346h1v1h-1zM778 345h1v1h-1zM779 344h1v1h-1zM780 343h1v1h-1zM781 342h1v1h-1zM782 342h1v1h-1zM783 341h1v1h-1zM784 341h1v1h-1zM785 340h1v1h-1zM786 340h1v1h-1zM787 339h1v1h-1zM788 339h1v1h-1zM789 338h1v1h-1zM790 337h1v1h-1zM791 336h1v1h-1zM792 335h1v1h-1zM793 335h1v1h-1zM794 334h1v1h-1zM795 333h1v1h-1zM796 332h1v1h-1zM797 332h1v1h-1zM798 331h1v1h-1zM799 331h1v1h-1zM800 330h1v1h-1zM801 330h1v1h-1zM802 330h1v1h-1zM803 329h1v1h-1zM804 329h1v1h-1zM805 328h1v1h-1zM806 328h1v1h-1zM807 327h1v1h-1zM808 327h1v1h-1zM809 326h1v1h-1zM810 326h1v1h-1zM811 325h1v1h-1zM812 325h1v1h-1zM813 324h1v1h-1zM814 322h1v2h-1zM815 321h1v1h-1zM816 320h1v1h-1zM817 319h1v1h-1zM818 317h1v2h-1zM819 316h1v1h-1zM820 315h1v1h-1zM821 313h1v2h-1zM822 312h1v1h-1zM823 310h1v2h-1zM824 309h1v1h-1zM825 307h1v2h-1zM826 306h1v1h-1zM827 304h1v2h-1zM828 303h1v1h-1zM829 302h1v1h-1zM830 301h1v1h-1zM831 300h1v1h-1zM832 299h1v1h-1zM833 298h1v1h-1zM834 297h1v1h-1zM835 296h1v1h-1zM836 295h1v1h-1zM837 294h1v1h-1zM838 294h1v1h-1zM839 293h1v1h-1zM840 292h1v1h-1zM841 292h1v1h-1zM842 291h1v1h-1zM843 291h1v1h-1zM844 290h1v1h-1zM845 289h1v1h-1zM846 289h1v1h-1zM847 288h1v1h-1zM848 287h1v1h-1zM849 287h1v1h-1zM850 286h1v1h-1zM851 286h1v1h-1zM852 285h1v1h-1zM853 285h1v1h-1zM854 284h1v1h-1zM855 284h1v1h-1zM856 284h1v1h-1zM857 284h1v1h-1zM858 283h1v1h-1zM859 283h1v1h-1zM860 283h1v1h-1zM861 283h1v1h-1zM862 284h1v1h-1zM863 284h1v1h-1zM864 284h1v1h-1zM865 284h1v1h-1zM866 285h1v1h-1zM867 285h1v1h-1zM868 285h1v1h-1zM869 285h1v1h-1zM870 285h1v1h-1zM871 285h1v1h-1zM872 285h1v1h-1zM873 285h1v1h-1zM874 285h1v1h-1zM875 285h1v1h-1zM876 285h1v1h-1zM877 285h1v1h-1zM878 284h1v1h-1zM879 284h1v1h-1zM880 284h1v1h-1zM881 284h1v1h-1zM882 283h1v1h-1zM883 283h1v1h-1zM884 283h1v1h-1zM885 283h1v1h-1zM886 282h1v1h-1zM887 282h1v1h-1zM888 282h1v1h-1zM889 282h1v1h-1zM890 281h1v1h-1zM891 281h1v1h-1zM892 281h1v1h-1zM893 280h1v1h-1zM894 279h1v1h-1zM895 279h1v1h-1zM896 278h1v1h-1zM897 277h1v1h-1zM898 276h1v1h-1zM899 276h1v1h-1zM900 275h1v1h-1zM901 274h1v1h-1zM902 274h1v1h-1zM903 273h1v1h-1zM904 272h1v1h-1zM905 272h1v1h-1zM906 271h1v1h-1zM907 271h1v1h-1zM908 270h1v1h-1zM909 270h1v1h-1zM910 269h1v1h-1zM911 269h1v1h-1zM912 268h1v1h-1zM913 268h1v1h-1zM914 268h1v1h-1zM915 267h1v1h-1zM916 267h1v1h-1zM917 266h1v1h-1zM918 266h1v1h-1zM919 265h1v1h-1zM920 265h1v1h-1zM921 264h1v1h-1zM922 264h1v1h-1zM923 263h1v1h-1zM924 263h1v1h-1zM925 263h1v1h-1zM926 262h1v1h-1zM927 262h1v1h-1zM928 261h1v1h-1zM929 261h1v1h-1zM930 261h1v1h-1zM931 260h1v1h-1zM932 260h1v1h-1zM933 260h1v1h-1zM934 259h1v1h-1zM935 259h1v1h-1zM936 259h1v1h-1zM937 259h1v1h-1zM938 258h1v1h-1zM939 258h1v1h-1zM940 258h1v1h-1zM941 258h1v1h-1zM942 258h1v1h-1zM943 258h1v1h-1zM944 258h1v1h-1zM945 258h1v1h-1zM946 258h1v1h-1zM947 258h1v1h-1zM948 258h1v1h-1zM949 258h1v1h-1zM950 257h1v1h-1zM951 257h1v1h-1zM952 256h1v1h-1zM953 256h1v1h-1zM954 256h1v1h-1zM955 255h1v1h-1zM956 255h1v1h-1zM957 255h1v1h-1zM958 255h1v1h-1zM959 255h1v1h-1zM960 255h1v1h-1zM961 255h1v1h-1zM962 255h1v1h-1zM963 255h1v1h-1zM964 255h1v1h-1zM965 254h1v1h-1zM966 254h1v1h-1zM967 253h1v1h-1zM968 253h1v1h-1zM969 252h1v1h-1zM970 252h1v1h-1zM971 251h1v1h-1zM972 251h1v1h-1zM973 251h1v1h-1zM974 251h1v1h-1zM975 251h1v1h-1zM976 250h1v1h-1zM977 250h1v1h-1zM978 250h1v1h-1zM979 250h1v1h-1zM980 250h1v1h-1zM981 250h1v1h-1zM982 249h1v1h-1zM983 249h1v1h-1zM984 248h1v1h-1zM985 248h1v1h-1zM986 248h1v1h-1zM987 247h1v1h-1zM988 247h1v1h-1zM989 247h1v1h-1zM990 247h1v1h-1zM991 247h1v1h-1zM992 247h1v1h-1zM993 247h1v1h-1zM994 247h1v1h-1zM995 247h1v1h-1zM996 247h1v1h-1zM997 247h1v1h-1zM998 246h1v1h-1zM999 246h1v1h-1zM1000 245h1v1h-1zM1001 245h1v1h-1zM1002 245h1v1h-1zM1003 244h1v1h-1zM1004 244h1v1h-1zM1005 244h1v1h-1zM1006 243h1v1h-1zM1007 243h1v1h-1zM1008 242h1v1h-1zM1009 242h1v1h-1zM1010 242h1v1h-1zM1011 241h1v1h-1zM1012 241h1v1h-1zM1013 241h1v1h-1zM1014 240h1v1h-1zM1015 240h1v1h-1zM1016 240h1v1h-1zM1017 240h1v1h-1zM1018 239h1v1h-1zM1019 239h1v1h-1zM1020 239h1v1h-1zM1021 239h1v1h-1zM1022 239h1v1h-1zM1023 239h1v1h-1zM1024 240h1v1h-1zM1025 240h1v1h-1zM1026 240h1v1h-1zM1027 240h1v1h-1zM1028 240h1v1h-1zM1029 240h1v1h-1zM1030 240h1v1h-1zM1031 240h1v1h-1zM1032 241h1v1h-1zM1033 241h1v1h-1zM1034 241h1v1h-1zM1035 241h1v1h-1zM1036 241h1v1h-1zM1037 241h1v1h-1zM1038 242h1v1h-1zM1039 242h1v1h-1zM1040 243h1v1h-1zM1041 243h1v1h-1zM1042 243h1v1h-1zM1043 244h1v1h-1zM1044 244h1v1h-1zM1045 245h1v1h-1zM1046 245h1v1h-1zM1047 246h1v1h-1zM1048 246h1v1h-1zM1049 247h1v1h-1zM1050 247h1v1h-1zM1051 248h1v1h-1zM1052 248h1v1h-1zM1053 248h1v1h-1zM1054 248h1v1h-1zM1055 248h1v1h-1zM1056 249h1v1h-1zM1057 249h1v1h-1zM1058 249h1v1h-1zM1059 249h1v1h-1zM1060 249h1v1h-1zM1061 249h1v1h-1zM1062 249h1v1h-1zM1063 249h1v1h-1zM1064 249h1v1h-1zM1065 249h1v1h-1zM1066 249h1v1h-1zM1067 249h1v1h-1zM1068 249h1v1h-1zM1069 249h1v1h-1zM1070 250h1v1h-1zM1071 250h1v1h-1zM1072 251h1v1h-1zM1073 251h1v1h-1zM1074 251h1v1h-1zM1075 252h1v1h-1zM1076 252h1v1h-1zM1077 252h1v1h-1zM1078 252h1v1h-1zM1079 252h1v1h-1zM1080 251h1v1h-1zM1081 251h1v1h-1zM1082 251h1v1h-1zM1083 251h1v1h-1zM1084 251h1v1h-1zM1085 251h1v1h-1zM1086 251h1v1h-1zM1087 251h1v1h-1zM1088 252h1v1h-1zM1089 252h1v1h-1zM1090 252h1v1h-1zM1091 252h1v1h-1zM1092 252h1v1h-1zM1093 252h1v1h-1zM1094 253h1v1h-1zM1095 253h1v1h-1zM1096 253h1v1h-1zM1097 253h1v1h-1zM1098 254h1v1h-1zM1099 254h1v1h-1zM1100 254h1v1h-1zM1101 254h1v1h-1zM1102 254h1v1h-1zM1103 254h1v1h-1zM1104 254h1v1h-1zM1105 254h1v1h-1zM1106 254h1v1h-1zM1107 254h1v1h-1zM1108 254h1v1h-1zM1109 254h1v1h-1zM1110 254h1v1h-1zM1111 254h1v1h-1zM1112 254h1v1h-1zM1113 254h1v1h-1zM1114 254h1v1h-1zM1115 254h1v1h-1zM1116 254h1v1h-1z" fill="#ffff00"/>
<rect x="4" y="109" width="1415" height="3" fill="#ff0000"/>
<rect x="3" y="107" width="7" height="7" fill="#ff0000"/>
<rect x="6" y="110" width="1" height="1" fill="#fff"/>
<rect x="1413" y="107" width="7" height="7" fill="#ff0000"/>
<rect x="1416" y="110" width="1" height="1" fill="#fff"/>
<rect x="1421" y="104" width="40" height="11" fill="#ff0000"/>
<text x="1425" y="112.4" font-size="9.2" fill="#fff" font-weight="400" text-anchor="start" stroke="#fff" stroke-width="0.2">1.00602</text>
<rect x="4" y="229" width="1415" height="3" fill="#00ff00"/>
<rect x="3" y="227" width="7" height="7" fill="#00ff00"/>
<rect x="6" y="230" width="1" height="1" fill="#fff"/>
<rect x="1413" y="227" width="7" height="7" fill="#00ff00"/>
<rect x="1416" y="230" width="1" height="1" fill="#fff"/>
<rect x="1421" y="224" width="40" height="11" fill="#00ff00"/>
<text x="1425" y="232.4" font-size="9.2" fill="#fff" font-weight="400" text-anchor="start" stroke="#fff" stroke-width="0.2">0.99503</text>
<rect x="1421" y="235" width="40" height="11" fill="#000"/>
<text x="1425" y="244" font-size="9.2" fill="#fff" font-weight="400" text-anchor="start" stroke="#fff" stroke-width="0.2">0.99414</text>
<rect x="4" y="392" width="1415" height="3" fill="#0000ff"/>
<rect x="3" y="390" width="7" height="7" fill="#0000ff"/>
<rect x="6" y="393" width="1" height="1" fill="#fff"/>
<rect x="1413" y="390" width="7" height="7" fill="#0000ff"/>
<rect x="1416" y="393" width="1" height="1" fill="#fff"/>
<rect x="1421" y="387" width="40" height="11" fill="#0000ff"/>
<text x="1425" y="395.4" font-size="9.2" fill="#fff" font-weight="400" text-anchor="start" stroke="#fff" stroke-width="0.2">0.98000</text>
<rect x="4" y="500" width="1415" height="3" fill="#0000ff"/>
<rect x="3" y="498" width="7" height="7" fill="#0000ff"/>
<rect x="6" y="501" width="1" height="1" fill="#fff"/>
<rect x="1421" y="495" width="40" height="11" fill="#0000ff"/>
<text x="1425" y="503.4" font-size="9.2" fill="#fff" font-weight="400" text-anchor="start" stroke="#fff" stroke-width="0.2">0.97005</text>
<path d="M1130,21 L1139,21 L1134.5,26 Z" fill="#c0c0c0"/>
<path d="M7,31 L14,31 L10.5,27 Z" fill="#000"/>
<text x="19.5" y="32" font-size="9.4" fill="#000" font-weight="400" text-anchor="start" stroke="#000" stroke-width="0.2" xml:space="preserve">USDCHF-,Daily  0.99409 0.99432 0.99377 0.99414</text>
<text x="8" y="575" font-size="9.3" fill="#000" font-weight="400" text-anchor="start" stroke="#000" stroke-width="0.2">MACD(12,26,9) 0.000410 -0.000303</text>
<rect x="1420" y="564" width="3" height="1" fill="#000"/>
<text x="1423" y="573" font-size="9.2" fill="#000" font-weight="400" text-anchor="start" stroke="#000" stroke-width="0.2">0.003574</text>
<rect x="1420" y="596" width="3" height="1" fill="#000"/>
<text x="1423" y="600" font-size="9.2" fill="#000" font-weight="400" text-anchor="start" stroke="#000" stroke-width="0.2">0.00</text>
<rect x="1420" y="665" width="3" height="1" fill="#000"/>
<text x="1423" y="663" font-size="9.2" fill="#000" font-weight="400" text-anchor="start" stroke="#000" stroke-width="0.2">-0.00749</text>
<text x="8" y="681" font-size="9.3" fill="#000" font-weight="400" text-anchor="start" stroke="#000" stroke-width="0.2">RSI(14) 53.8497</text>
<rect x="1420" y="668" width="2" height="1" fill="#000"/>
<rect x="1420" y="797" width="2" height="1" fill="#000"/>
<text x="1423" y="679.5" font-size="9.2" fill="#000" font-weight="400" text-anchor="start" stroke="#000" stroke-width="0.2">100</text>
<text x="1423" y="712.0" font-size="9.2" fill="#000" font-weight="400" text-anchor="start" stroke="#000" stroke-width="0.2">70</text>
<text x="1423" y="763.0" font-size="9.2" fill="#000" font-weight="400" text-anchor="start" stroke="#000" stroke-width="0.2">30</text>
<text x="1423" y="795.5" font-size="9.2" fill="#000" font-weight="400" text-anchor="start" stroke="#000" stroke-width="0.2">0</text>
<line x1="4" y1="708.5" x2="1418" y2="708.5" stroke="#c0c0c0" stroke-dasharray="3,3"/>
<line x1="4" y1="759.5" x2="1418" y2="759.5" stroke="#c0c0c0" stroke-dasharray="3,3"/>
<rect x="4" y="596" width="1" height="4" fill="#c0c0c0"/>
<rect x="12" y="596" width="1" height="6" fill="#c0c0c0"/>
<rect x="20" y="596" width="1" height="10" fill="#c0c0c0"/>
<rect x="28" y="596" width="1" height="17" fill="#c0c0c0"/>
<rect x="36" y="596" width="1" height="20" fill="#c0c0c0"/>
<rect x="44" y="596" width="1" height="21" fill="#c0c0c0"/>
<rect x="52" y="596" width="1" height="20" fill="#c0c0c0"/>
<rect x="60" y="596" width="1" height="17" fill="#c0c0c0"/>
<rect x="68" y="596" width="1" height="15" fill="#c0c0c0"/>
<rect x="76" y="596" width="1" height="20" fill="#c0c0c0"/>
<rect x="84" y="596" width="1" height="23" fill="#c0c0c0"/>
<rect x="92" y="596" width="1" height="30" fill="#c0c0c0"/>
<rect x="100" y="596" width="1" height="36" fill="#c0c0c0"/>
<rect x="108" y="596" width="1" height="39" fill="#c0c0c0"/>
<rect x="116" y="596" width="1" height="43" fill="#c0c0c0"/>
<rect x="124" y="596" width="1" height="48" fill="#c0c0c0"/>
<rect x="132" y="596" width="1" height="50" fill="#c0c0c0"/>
<rect x="140" y="596" width="1" height="52" fill="#c0c0c0"/>
<rect x="148" y="596" width="1" height="50" fill="#c0c0c0"/>
<rect x="156" y="596" width="1" height="45" fill="#c0c0c0"/>
<rect x="164" y="596" width="1" height="43" fill="#c0c0c0"/>
<rect x="172" y="596" width="1" height="37" fill="#c0c0c0"/>
<rect x="180" y="596" width="1" height="31" fill="#c0c0c0"/>
<rect x="188" y="596" width="1" height="27" fill="#c0c0c0"/>
<rect x="196" y="596" width="1" height="22" fill="#c0c0c0"/>
<rect x="204" y="596" width="1" height="23" fill="#c0c0c0"/>
<rect x="212" y="596" width="1" height="32" fill="#c0c0c0"/>
<rect x="220" y="596" width="1" height="43" fill="#c0c0c0"/>
<rect x="228" y="596" width="1" height="50" fill="#c0c0c0"/>
<rect x="236" y="596" width="1" height="60" fill="#c0c0c0"/>
<rect x="244" y="596" width="1" height="63" fill="#c0c0c0"/>
<rect x="252" y="596" width="1" height="64" fill="#c0c0c0"/>
<rect x="260" y="596" width="1" height="64" fill="#c0c0c0"/>
<rect x="268" y="596" width="1" height="64" fill="#c0c0c0"/>
<rect x="276" y="596" width="1" height="60" fill="#c0c0c0"/>
<rect x="284" y="596" width="1" height="52" fill="#c0c0c0"/>
<rect x="292" y="596" width="1" height="46" fill="#c0c0c0"/>
<rect x="300" y="596" width="1" height="40" fill="#c0c0c0"/>
<rect x="308" y="596" width="1" height="36" fill="#c0c0c0"/>
<rect x="316" y="596" width="1" height="27" fill="#c0c0c0"/>
<rect x="324" y="596" width="1" height="20" fill="#c0c0c0"/>
<rect x="332" y="596" width="1" height="12" fill="#c0c0c0"/>
<rect x="340" y="596" width="1" height="7" fill="#c0c0c0"/>
<rect x="348" y="596" width="1" height="6" fill="#c0c0c0"/>
<rect x="356" y="596" width="1" height="4" fill="#c0c0c0"/>
<rect x="364" y="596" width="1" height="7" fill="#c0c0c0"/>
<rect x="372" y="596" width="1" height="9" fill="#c0c0c0"/>
<rect x="380" y="596" width="1" height="9" fill="#c0c0c0"/>
<rect x="388" y="596" width="1" height="8" fill="#c0c0c0"/>
<rect x="396" y="596" width="1" height="8" fill="#c0c0c0"/>
<rect x="404" y="596" width="1" height="11" fill="#c0c0c0"/>
<rect x="412" y="596" width="1" height="13" fill="#c0c0c0"/>
<rect x="420" y="596" width="1" height="14" fill="#c0c0c0"/>
<rect x="428" y="596" width="1" height="15" fill="#c0c0c0"/>
<rect x="436" y="596" width="1" height="12" fill="#c0c0c0"/>
<rect x="444" y="596" width="1" height="12" fill="#c0c0c0"/>
<rect x="452" y="596" width="1" height="7" fill="#c0c0c0"/>
<rect x="460" y="596" width="1" height="1" fill="#c0c0c0"/>
<rect x="468" y="593" width="1" height="3" fill="#c0c0c0"/>
<rect x="476" y="591" width="1" height="5" fill="#c0c0c0"/>
<rect x="484" y="590" width="1" height="6" fill="#c0c0c0"/>
<rect x="492" y="587" width="1" height="9" fill="#c0c0c0"/>
<rect x="500" y="587" width="1" height="9" fill="#c0c0c0"/>
<rect x="516" y="596" width="1" height="1" fill="#c0c0c0"/>
<rect x="524" y="596" width="1" height="14" fill="#c0c0c0"/>
<rect x="532" y="596" width="1" height="20" fill="#c0c0c0"/>
<rect x="540" y="596" width="1" height="25" fill="#c0c0c0"/>
<rect x="548" y="596" width="1" height="29" fill="#c0c0c0"/>
<rect x="556" y="596" width="1" height="33" fill="#c0c0c0"/>
<rect x="564" y="596" width="1" height="36" fill="#c0c0c0"/>
<rect x="572" y="596" width="1" height="40" fill="#c0c0c0"/>
<rect x="580" y="596" width="1" height="38" fill="#c0c0c0"/>
<rect x="588" y="596" width="1" height="37" fill="#c0c0c0"/>
<rect x="596" y="596" width="1" height="34" fill="#c0c0c0"/>
<rect x="604" y="596" width="1" height="30" fill="#c0c0c0"/>
<rect x="612" y="596" width="1" height="26" fill="#c0c0c0"/>
<rect x="620" y="596" width="1" height="22" fill="#c0c0c0"/>
<rect x="628" y="596" width="1" height="20" fill="#c0c0c0"/>
<rect x="636" y="596" width="1" height="16" fill="#c0c0c0"/>
<rect x="644" y="596" width="1" height="11" fill="#c0c0c0"/>
<rect x="652" y="596" width="1" height="13" fill="#c0c0c0"/>
<rect x="660" y="596" width="1" height="17" fill="#c0c0c0"/>
<rect x="668" y="596" width="1" height="14" fill="#c0c0c0"/>
<rect x="676" y="596" width="1" height="11" fill="#c0c0c0"/>
<rect x="684" y="596" width="1" height="8" fill="#c0c0c0"/>
<rect x="692" y="596" width="1" height="1" fill="#c0c0c0"/>
<rect x="700" y="591" width="1" height="5" fill="#c0c0c0"/>
<rect x="708" y="586" width="1" height="10" fill="#c0c0c0"/>
<rect x="716" y="581" width="1" height="15" fill="#c0c0c0"/>
<rect x="724" y="580" width="1" height="16" fill="#c0c0c0"/>
<rect x="732" y="584" width="1" height="12" fill="#c0c0c0"/>
<rect x="740" y="583" width="1" height="13" fill="#c0c0c0"/>
<rect x="748" y="582" width="1" height="14" fill="#c0c0c0"/>
<rect x="756" y="580" width="1" height="16" fill="#c0c0c0"/>
<rect x="764" y="576" width="1" height="20" fill="#c0c0c0"/>
<rect x="772" y="574" width="1" height="22" fill="#c0c0c0"/>
<rect x="780" y="571" width="1" height="25" fill="#c0c0c0"/>
<rect x="788" y="571" width="1" height="25" fill="#c0c0c0"/>
<rect x="796" y="571" width="1" height="25" fill="#c0c0c0"/>
<rect x="804" y="575" width="1" height="21" fill="#c0c0c0"/>
<rect x="812" y="573" width="1" height="23" fill="#c0c0c0"/>
<rect x="820" y="573" width="1" height="23" fill="#c0c0c0"/>
<rect x="828" y="569" width="1" height="27" fill="#c0c0c0"/>
<rect x="836" y="570" width="1" height="26" fill="#c0c0c0"/>
<rect x="844" y="571" width="1" height="25" fill="#c0c0c0"/>
<rect x="852" y="573" width="1" height="23" fill="#c0c0c0"/>
<rect x="860" y="576" width="1" height="20" fill="#c0c0c0"/>
<rect x="868" y="582" width="1" height="14" fill="#c0c0c0"/>
<rect x="876" y="582" width="1" height="14" fill="#c0c0c0"/>
<rect x="884" y="581" width="1" height="15" fill="#c0c0c0"/>
<rect x="892" y="583" width="1" height="13" fill="#c0c0c0"/>
<rect x="900" y="584" width="1" height="12" fill="#c0c0c0"/>
<rect x="908" y="580" width="1" height="16" fill="#c0c0c0"/>
<rect x="916" y="579" width="1" height="17" fill="#c0c0c0"/>
<rect x="924" y="578" width="1" height="18" fill="#c0c0c0"/>
<rect x="932" y="576" width="1" height="20" fill="#c0c0c0"/>
<rect x="940" y="576" width="1" height="20" fill="#c0c0c0"/>
<rect x="948" y="579" width="1" height="17" fill="#c0c0c0"/>
<rect x="956" y="579" width="1" height="17" fill="#c0c0c0"/>
<rect x="964" y="581" width="1" height="15" fill="#c0c0c0"/>
<rect x="972" y="583" width="1" height="13" fill="#c0c0c0"/>
<rect x="980" y="582" width="1" height="14" fill="#c0c0c0"/>
<rect x="988" y="581" width="1" height="15" fill="#c0c0c0"/>
<rect x="996" y="579" width="1" height="17" fill="#c0c0c0"/>
<rect x="1004" y="579" width="1" height="17" fill="#c0c0c0"/>
<rect x="1012" y="579" width="1" height="17" fill="#c0c0c0"/>
<rect x="1020" y="580" width="1" height="16" fill="#c0c0c0"/>
<rect x="1028" y="588" width="1" height="8" fill="#c0c0c0"/>
<rect x="1036" y="595" width="1" height="1" fill="#c0c0c0"/>
<rect x="1044" y="596" width="1" height="4" fill="#c0c0c0"/>
<rect x="1052" y="596" width="1" height="8" fill="#c0c0c0"/>
<rect x="1060" y="596" width="1" height="9" fill="#c0c0c0"/>
<rect x="1068" y="596" width="1" height="8" fill="#c0c0c0"/>
<rect x="1076" y="596" width="1" height="6" fill="#c0c0c0"/>
<rect x="1084" y="596" width="1" height="2" fill="#c0c0c0"/>
<rect x="1092" y="596" width="1" height="1" fill="#c0c0c0"/>
<rect x="1108" y="595" width="1" height="1" fill="#c0c0c0"/>
<rect x="1116" y="594" width="1" height="2" fill="#c0c0c0"/>
<polyline points="4,594.3 20,597.9 36,603.9 52,608.4 68,610.2 84,612.8 100,617.8 116,622.3 132,629.7 148,635.6 164,641.2 180,640.2 196,636.2 212,630.7 228,630.7 244,633.6 260,643.6 276,651.5 284,653.5 300,654.5 308,652.5 324,646.5 340,634.6 356,622.7 372,614.8 388,608.8 404,604.8 420,604.5 436,605.8 452,607.2 468,605.4 484,601.9 500,595.9 516,593.5 532,595.9 548,602.9 564,612.0 580,623.1 596,629.1 612,631.1 628,628.5 644,623.9 660,617.6 676,613.2 692,608.6 708,601.7 724,596.3 740,590.8 756,584.2 772,579.8 788,577.5 804,575.5 820,573.5 836,571.5 844,571.5 860,571.5 876,573.5 892,574.9 908,578.9 924,579.8 940,579.3 956,578.5 972,578.5 988,578.5 1004,579.3 1020,579.3 1036,581.8 1052,585.2 1068,590.8 1084,597.3 1100,600.3 1116,599.3" fill="none" stroke="#ff0000" stroke-width="1" stroke-dasharray="3,3"/>
<path d="M4 736h1v1h-1zM5 737h1v1h-1zM6 737h1v1h-1zM7 738h1v1h-1zM8 738h1v1h-1zM9 739h1v1h-1zM10 739h1v1h-1zM11 740h1v1h-1zM12 740h1v1h-1zM13 741h1v2h-1zM14 743h1v1h-1zM15 744h1v1h-1zM16 745h1v2h-1zM17 747h1v1h-1zM18 748h1v1h-1zM19 749h1v2h-1zM20 751h1v1h-1zM21 751h1v1h-1zM22 752h1v1h-1zM23 752h1v1h-1zM24 753h1v1h-1zM25 753h1v1h-1zM26 753h1v1h-1zM27 754h1v1h-1zM28 754h1v1h-1zM29 754h1v1h-1zM30 754h1v1h-1zM31 754h1v1h-1zM32 753h1v1h-1zM33 753h1v1h-1zM34 753h1v1h-1zM35 753h1v1h-1zM36 753h1v1h-1zM37 752h1v1h-1zM38 751h1v1h-1zM39 751h1v1h-1zM40 750h1v1h-1zM41 749h1v1h-1zM42 748h1v1h-1zM43 748h1v1h-1zM44 747h1v1h-1zM45 746h1v1h-1zM46 745h1v1h-1zM47 744h1v1h-1zM48 743h1v1h-1zM49 742h1v1h-1zM50 741h1v1h-1zM51 740h1v1h-1zM52 739h1v1h-1zM53 739h1v1h-1zM54 738h1v1h-1zM55 738h1v1h-1zM56 737h1v1h-1zM57 737h1v1h-1zM58 737h1v1h-1zM59 736h1v1h-1zM60 736h1v1h-1zM61 736h1v1h-1zM62 737h1v1h-1zM63 737h1v1h-1zM64 738h1v1h-1zM65 738h1v1h-1zM66 738h1v1h-1zM67 739h1v1h-1zM68 739h1v1h-1zM69 740h1v2h-1zM70 742h1v1h-1zM71 743h1v2h-1zM72 745h1v1h-1zM73 746h1v2h-1zM74 748h1v1h-1zM75 749h1v2h-1zM76 751h1v1h-1zM77 751h1v1h-1zM78 751h1v1h-1zM79 751h1v1h-1zM80 752h1v1h-1zM81 752h1v1h-1zM82 752h1v1h-1zM83 752h1v1h-1zM84 752h1v1h-1zM85 753h1v1h-1zM86 754h1v1h-1zM87 755h1v1h-1zM88 756h1v1h-1zM89 757h1v1h-1zM90 758h1v1h-1zM91 759h1v1h-1zM92 760h1v1h-1zM93 760h1v1h-1zM94 761h1v1h-1zM95 761h1v1h-1zM96 761h1v1h-1zM97 761h1v1h-1zM98 762h1v1h-1zM99 762h1v1h-1zM100 762h1v1h-1zM101 761h1v1h-1zM102 761h1v1h-1zM103 760h1v1h-1zM104 759h1v1h-1zM105 759h1v1h-1zM106 758h1v1h-1zM107 758h1v1h-1zM108 757h1v1h-1zM109 757h1v1h-1zM110 758h1v1h-1zM111 758h1v1h-1zM112 759h1v1h-1zM113 759h1v1h-1zM114 759h1v1h-1zM115 760h1v1h-1zM116 760h1v1h-1zM117 761h1v1h-1zM118 761h1v1h-1zM119 762h1v1h-1zM120 763h1v1h-1zM121 763h1v1h-1zM122 764h1v1h-1zM123 764h1v1h-1zM124 765h1v1h-1zM125 764h1v1h-1zM126 763h1v1h-1zM127 762h1v1h-1zM128 761h1v1h-1zM129 760h1v1h-1zM130 759h1v1h-1zM131 758h1v1h-1zM132 757h1v1h-1zM133 757h1v1h-1zM134 757h1v1h-1zM135 757h1v1h-1zM136 758h1v1h-1zM137 758h1v1h-1zM138 758h1v1h-1zM139 758h1v1h-1zM140 758h1v1h-1zM141 757h1v1h-1zM142 756h1v1h-1zM143 755h1v1h-1zM144 754h1v1h-1zM145 753h1v1h-1zM146 752h1v1h-1zM147 751h1v1h-1zM148 750h1v1h-1zM149 749h1v1h-1zM150 748h1v1h-1zM151 747h1v1h-1zM152 746h1v1h-1zM153 746h1v1h-1zM154 745h1v1h-1zM155 744h1v1h-1zM156 743h1v1h-1zM157 743h1v1h-1zM158 744h1v1h-1zM159 744h1v1h-1zM160 744h1v1h-1zM161 744h1v1h-1zM162 745h1v1h-1zM163 745h1v1h-1zM164 745h1v1h-1zM165 744h1v1h-1zM166 742h1v2h-1zM167 741h1v1h-1zM168 740h1v1h-1zM169 739h1v1h-1zM170 737h1v2h-1zM171 736h1v1h-1zM172 735h1v1h-1zM173 735h1v1h-1zM174 735h1v1h-1zM175 735h1v1h-1zM176 735h1v1h-1zM177 735h1v1h-1zM178 735h1v1h-1zM179 735h1v1h-1zM180 735h1v1h-1zM181 735h1v1h-1zM182 735h1v1h-1zM183 735h1v1h-1zM184 736h1v1h-1zM185 736h1v1h-1zM186 736h1v1h-1zM187 736h1v1h-1zM188 736h1v1h-1zM189 735h1v1h-1zM190 735h1v1h-1zM191 734h1v1h-1zM192 733h1v1h-1zM193 733h1v1h-1zM194 732h1v1h-1zM195 732h1v1h-1zM196 731h1v1h-1zM197 732h1v2h-1zM198 734h1v1h-1zM199 735h1v1h-1zM200 736h1v2h-1zM201 738h1v1h-1zM202 739h1v1h-1zM203 740h1v2h-1zM204 742h1v1h-1zM205 743h1v2h-1zM206 745h1v2h-1zM207 747h1v2h-1zM208 749h1v2h-1zM209 751h1v2h-1zM210 753h1v2h-1zM211 755h1v2h-1zM212 757h1v2h-1zM213 759h1v1h-1zM214 759h1v1h-1zM215 760h1v1h-1zM216 760h1v1h-1zM217 761h1v1h-1zM218 761h1v1h-1zM219 762h1v1h-1zM220 762h1v1h-1zM221 762h1v1h-1zM222 762h1v1h-1zM223 762h1v1h-1zM224 763h1v1h-1zM225 763h1v1h-1zM226 763h1v1h-1zM227 763h1v1h-1zM228 763h1v1h-1zM229 763h1v1h-1zM230 764h1v1h-1zM231 764h1v1h-1zM232 764h1v1h-1zM233 764h1v1h-1zM234 765h1v1h-1zM235 765h1v1h-1zM236 765h1v1h-1zM237 764h1v1h-1zM238 764h1v1h-1zM239 763h1v1h-1zM240 762h1v1h-1zM241 762h1v1h-1zM242 761h1v1h-1zM243 761h1v1h-1zM244 760h1v1h-1zM245 759h1v1h-1zM246 758h1v1h-1zM247 758h1v1h-1zM248 757h1v1h-1zM249 756h1v1h-1zM250 755h1v1h-1zM251 755h1v1h-1zM252 754h1v1h-1zM253 754h1v1h-1zM254 755h1v1h-1zM255 755h1v1h-1zM256 755h1v1h-1zM257 755h1v1h-1zM258 756h1v1h-1zM259 756h1v1h-1zM260 756h1v1h-1zM261 756h1v1h-1zM262 756h1v1h-1zM263 756h1v1h-1zM264 757h1v1h-1zM265 757h1v1h-1zM266 757h1v1h-1zM267 757h1v1h-1zM268 757h1v1h-1zM269 755h1v2h-1zM270 754h1v1h-1zM271 753h1v1h-1zM272 751h1v2h-1zM273 750h1v1h-1zM274 749h1v1h-1zM275 747h1v2h-1zM276 746h1v1h-1zM277 745h1v1h-1zM278 743h1v2h-1zM279 742h1v1h-1zM280 741h1v1h-1zM281 740h1v1h-1zM282 738h1v2h-1zM283 737h1v1h-1zM284 736h1v1h-1zM285 736h1v1h-1zM286 736h1v1h-1zM287 736h1v1h-1zM288 737h1v1h-1zM289 737h1v1h-1zM290 737h1v1h-1zM291 737h1v1h-1zM292 737h1v1h-1zM293 737h1v1h-1zM294 737h1v1h-1zM295 737h1v1h-1zM296 737h1v1h-1zM297 737h1v1h-1zM298 737h1v1h-1zM299 737h1v1h-1zM300 737h1v1h-1zM301 737h1v1h-1zM302 737h1v1h-1zM303 737h1v1h-1zM304 738h1v1h-1zM305 738h1v1h-1zM306 738h1v1h-1zM307 738h1v1h-1zM308 738h1v1h-1zM309 736h1v2h-1zM310 735h1v1h-1zM311 734h1v1h-1zM312 732h1v2h-1zM313 731h1v1h-1zM314 730h1v1h-1zM315 728h1v2h-1zM316 727h1v1h-1zM317 727h1v1h-1zM318 727h1v1h-1zM319 727h1v1h-1zM320 728h1v1h-1zM321 728h1v1h-1zM322 728h1v1h-1zM323 728h1v1h-1zM324 728h1v1h-1zM325 727h1v1h-1zM326 727h1v1h-1zM327 726h1v1h-1zM328 726h1v1h-1zM329 725h1v1h-1zM330 725h1v1h-1zM331 724h1v1h-1zM332 724h1v1h-1zM333 724h1v1h-1zM334 724h1v1h-1zM335 724h1v1h-1zM336 725h1v1h-1zM337 725h1v1h-1zM338 725h1v1h-1zM339 725h1v1h-1zM340 725h1v1h-1zM341 726h1v1h-1zM342 727h1v2h-1zM343 729h1v1h-1zM344 730h1v1h-1zM345 731h1v1h-1zM346 732h1v2h-1zM347 734h1v1h-1zM348 735h1v1h-1zM349 734h1v1h-1zM350 734h1v1h-1zM351 733h1v1h-1zM352 733h1v1h-1zM353 732h1v1h-1zM354 732h1v1h-1zM355 731h1v1h-1zM356 731h1v1h-1zM357 732h1v1h-1zM358 733h1v1h-1zM359 734h1v1h-1zM360 735h1v2h-1zM361 737h1v1h-1zM362 738h1v1h-1zM363 739h1v1h-1zM364 740h1v1h-1zM365 740h1v1h-1zM366 740h1v1h-1zM367 740h1v1h-1zM368 740h1v1h-1zM369 740h1v1h-1zM370 740h1v1h-1zM371 740h1v1h-1zM372 740h1v1h-1zM373 740h1v1h-1zM374 740h1v1h-1zM375 740h1v1h-1zM376 740h1v1h-1zM377 740h1v1h-1zM378 740h1v1h-1zM379 740h1v1h-1zM380 740h1v1h-1zM381 739h1v1h-1zM382 738h1v1h-1zM383 737h1v1h-1zM384 736h1v1h-1zM385 736h1v1h-1zM386 735h1v1h-1zM387 734h1v1h-1zM388 733h1v1h-1zM389 733h1v1h-1zM390 734h1v1h-1zM391 734h1v1h-1zM392 734h1v1h-1zM393 734h1v1h-1zM394 735h1v1h-1zM395 735h1v1h-1zM396 735h1v1h-1zM397 736h1v1h-1zM398 737h1v1h-1zM399 738h1v1h-1zM400 739h1v1h-1zM401 739h1v1h-1zM402 740h1v1h-1zM403 741h1v1h-1zM404 742h1v1h-1zM405 742h1v1h-1zM406 742h1v1h-1zM407 742h1v1h-1zM408 742h1v1h-1zM409 742h1v1h-1zM410 742h1v1h-1zM411 742h1v1h-1zM412 742h1v1h-1zM413 742h1v1h-1zM414 742h1v1h-1zM415 742h1v1h-1zM416 741h1v1h-1zM417 741h1v1h-1zM418 741h1v1h-1zM419 741h1v1h-1zM420 741h1v1h-1zM421 741h1v1h-1zM422 741h1v1h-1zM423 741h1v1h-1zM424 742h1v1h-1zM425 742h1v1h-1zM426 742h1v1h-1zM427 742h1v1h-1zM428 742h1v1h-1zM429 741h1v1h-1zM430 740h1v1h-1zM431 740h1v1h-1zM432 739h1v1h-1zM433 738h1v1h-1zM434 737h1v1h-1zM435 737h1v1h-1zM436 736h1v1h-1zM437 736h1v1h-1zM438 736h1v1h-1zM439 736h1v1h-1zM440 737h1v1h-1zM441 737h1v1h-1zM442 737h1v1h-1zM443 737h1v1h-1zM444 737h1v1h-1zM445 735h1v2h-1zM446 734h1v1h-1zM447 732h1v2h-1zM448 731h1v1h-1zM449 729h1v2h-1zM450 728h1v1h-1zM451 726h1v2h-1zM452 725h1v1h-1zM453 724h1v1h-1zM454 724h1v1h-1zM455 723h1v1h-1zM456 722h1v1h-1zM457 722h1v1h-1zM458 721h1v1h-1zM459 721h1v1h-1zM460 720h1v1h-1zM461 720h1v1h-1zM462 721h1v1h-1zM463 721h1v1h-1zM464 721h1v1h-1zM465 721h1v1h-1zM466 722h1v1h-1zM467 722h1v1h-1zM468 722h1v1h-1zM469 722h1v1h-1zM470 723h1v1h-1zM471 723h1v1h-1zM472 724h1v1h-1zM473 724h1v1h-1zM474 724h1v1h-1zM475 725h1v1h-1zM476 725h1v1h-1zM477 726h1v1h-1zM478 726h1v1h-1zM479 727h1v1h-1zM480 728h1v1h-1zM481 728h1v1h-1zM482 729h1v1h-1zM483 729h1v1h-1zM484 730h1v1h-1zM485 729h1v1h-1zM486 728h1v1h-1zM487 727h1v1h-1zM488 726h1v1h-1zM489 725h1v1h-1zM490 724h1v1h-1zM491 723h1v1h-1zM492 722h1v1h-1zM493 723h1v1h-1zM494 724h1v2h-1zM495 726h1v1h-1zM496 727h1v1h-1zM497 728h1v1h-1zM498 729h1v2h-1zM499 731h1v1h-1zM500 732h1v1h-1zM501 733h1v2h-1zM502 735h1v1h-1zM503 736h1v1h-1zM504 737h1v2h-1zM505 739h1v1h-1zM506 740h1v1h-1zM507 741h1v2h-1zM508 743h1v1h-1zM509 743h1v1h-1zM510 743h1v1h-1zM511 743h1v1h-1zM512 743h1v1h-1zM513 743h1v1h-1zM514 743h1v1h-1zM515 743h1v1h-1zM516 743h1v1h-1zM517 744h1v2h-1zM518 746h1v2h-1zM519 748h1v2h-1zM520 750h1v2h-1zM521 752h1v2h-1zM522 754h1v2h-1zM523 756h1v2h-1zM524 758h1v1h-1zM525 756h1v2h-1zM526 755h1v1h-1zM527 754h1v1h-1zM528 752h1v2h-1zM529 751h1v1h-1zM530 750h1v1h-1zM531 748h1v2h-1zM532 747h1v1h-1zM533 747h1v1h-1zM534 747h1v1h-1zM535 747h1v1h-1zM536 748h1v1h-1zM537 748h1v1h-1zM538 748h1v1h-1zM539 748h1v1h-1zM540 748h1v1h-1zM541 748h1v1h-1zM542 749h1v1h-1zM543 749h1v1h-1zM544 749h1v1h-1zM545 749h1v1h-1zM546 750h1v1h-1zM547 750h1v1h-1zM548 750h1v1h-1zM549 750h1v1h-1zM550 750h1v1h-1zM551 750h1v1h-1zM552 751h1v1h-1zM553 751h1v1h-1zM554 751h1v1h-1zM555 751h1v1h-1zM556 751h1v1h-1zM557 751h1v1h-1zM558 751h1v1h-1zM559 751h1v1h-1zM560 752h1v1h-1zM561 752h1v1h-1zM562 752h1v1h-1zM563 752h1v1h-1zM564 752h1v1h-1zM565 752h1v1h-1zM566 753h1v1h-1zM567 753h1v1h-1zM568 754h1v1h-1zM569 754h1v1h-1zM570 754h1v1h-1zM571 755h1v1h-1zM572 755h1v1h-1zM573 753h1v2h-1zM574 751h1v2h-1zM575 749h1v2h-1zM576 748h1v1h-1zM577 746h1v2h-1zM578 744h1v2h-1zM579 742h1v2h-1zM580 741h1v1h-1zM581 742h1v1h-1zM582 742h1v1h-1zM583 743h1v1h-1zM584 743h1v1h-1zM585 744h1v1h-1zM586 744h1v1h-1zM587 745h1v1h-1zM588 745h1v1h-1zM589 744h1v1h-1zM590 744h1v1h-1zM591 743h1v1h-1zM592 743h1v1h-1zM593 742h1v1h-1zM594 742h1v1h-1zM595 741h1v1h-1zM596 741h1v1h-1zM597 740h1v1h-1zM598 740h1v1h-1zM599 739h1v1h-1zM600 739h1v1h-1zM601 738h1v1h-1zM602 738h1v1h-1zM603 737h1v1h-1zM604 737h1v1h-1zM605 737h1v1h-1zM606 736h1v1h-1zM607 736h1v1h-1zM608 736h1v1h-1zM609 736h1v1h-1zM610 735h1v1h-1zM611 735h1v1h-1zM612 735h1v1h-1zM613 735h1v1h-1zM614 734h1v1h-1zM615 734h1v1h-1zM616 733h1v1h-1zM617 733h1v1h-1zM618 733h1v1h-1zM619 732h1v1h-1zM620 732h1v1h-1zM621 733h1v1h-1zM622 733h1v1h-1zM623 734h1v1h-1zM624 735h1v1h-1zM625 735h1v1h-1zM626 736h1v1h-1zM627 736h1v1h-1zM628 737h1v1h-1zM629 736h1v1h-1zM630 735h1v1h-1zM631 734h1v1h-1zM632 733h1v1h-1zM633 733h1v1h-1zM634 732h1v1h-1zM635 731h1v1h-1zM636 730h1v1h-1zM637 730h1v1h-1zM638 729h1v1h-1zM639 729h1v1h-1zM640 729h1v1h-1zM641 729h1v1h-1zM642 728h1v1h-1zM643 728h1v1h-1zM644 728h1v1h-1zM645 729h1v2h-1zM646 731h1v2h-1zM647 733h1v2h-1zM648 735h1v1h-1zM649 736h1v2h-1zM650 738h1v2h-1zM651 740h1v2h-1zM652 742h1v1h-1zM653 742h1v1h-1zM654 743h1v1h-1zM655 743h1v1h-1zM656 743h1v1h-1zM657 743h1v1h-1zM658 744h1v1h-1zM659 744h1v1h-1zM660 744h1v1h-1zM661 743h1v1h-1zM662 742h1v1h-1zM663 741h1v1h-1zM664 739h1v2h-1zM665 738h1v1h-1zM666 737h1v1h-1zM667 736h1v1h-1zM668 735h1v1h-1zM669 734h1v1h-1zM670 734h1v1h-1zM671 733h1v1h-1zM672 733h1v1h-1zM673 732h1v1h-1zM674 732h1v1h-1zM675 731h1v1h-1zM676 731h1v1h-1zM677 731h1v1h-1zM678 731h1v1h-1zM679 731h1v1h-1zM680 731h1v1h-1zM681 731h1v1h-1zM682 731h1v1h-1zM683 731h1v1h-1zM684 731h1v1h-1zM685 730h1v1h-1zM686 730h1v1h-1zM687 729h1v1h-1zM688 728h1v1h-1zM689 728h1v1h-1zM690 727h1v1h-1zM691 727h1v1h-1zM692 726h1v1h-1zM693 725h1v1h-1zM694 724h1v1h-1zM695 724h1v1h-1zM696 723h1v1h-1zM697 722h1v1h-1zM698 721h1v1h-1zM699 721h1v1h-1zM700 720h1v1h-1zM701 720h1v1h-1zM702 720h1v1h-1zM703 720h1v1h-1zM704 721h1v1h-1zM705 721h1v1h-1zM706 721h1v1h-1zM707 721h1v1h-1zM708 721h1v1h-1zM709 721h1v1h-1zM710 721h1v1h-1zM711 721h1v1h-1zM712 720h1v1h-1zM713 720h1v1h-1zM714 720h1v1h-1zM715 720h1v1h-1zM716 720h1v1h-1zM717 721h1v1h-1zM718 721h1v1h-1zM719 722h1v1h-1zM720 723h1v1h-1zM721 723h1v1h-1zM722 724h1v1h-1zM723 724h1v1h-1zM724 725h1v1h-1zM725 726h1v2h-1zM726 728h1v1h-1zM727 729h1v1h-1zM728 730h1v2h-1zM729 732h1v1h-1zM730 733h1v1h-1zM731 734h1v2h-1zM732 736h1v1h-1zM733 735h1v1h-1zM734 734h1v1h-1zM735 733h1v1h-1zM736 732h1v1h-1zM737 731h1v1h-1zM738 730h1v1h-1zM739 729h1v1h-1zM740 728h1v1h-1zM741 728h1v1h-1zM742 727h1v1h-1zM743 727h1v1h-1zM744 727h1v1h-1zM745 727h1v1h-1zM746 726h1v1h-1zM747 726h1v1h-1zM748 726h1v1h-1zM749 726h1v1h-1zM750 726h1v1h-1zM751 726h1v1h-1zM752 726h1v1h-1zM753 726h1v1h-1zM754 726h1v1h-1zM755 726h1v1h-1zM756 726h1v1h-1zM757 725h1v1h-1zM758 724h1v1h-1zM759 724h1v1h-1zM760 723h1v1h-1zM761 722h1v1h-1zM762 721h1v1h-1zM763 721h1v1h-1zM764 720h1v1h-1zM765 720h1v1h-1zM766 721h1v1h-1zM767 721h1v1h-1zM768 721h1v1h-1zM769 721h1v1h-1zM770 722h1v1h-1zM771 722h1v1h-1zM772 722h1v1h-1zM773 722h1v1h-1zM774 721h1v1h-1zM775 721h1v1h-1zM776 721h1v1h-1zM777 721h1v1h-1zM778 720h1v1h-1zM779 720h1v1h-1zM780 720h1v1h-1zM781 721h1v1h-1zM782 721h1v1h-1zM783 722h1v1h-1zM784 723h1v1h-1zM785 723h1v1h-1zM786 724h1v1h-1zM787 724h1v1h-1zM788 725h1v1h-1zM789 725h1v1h-1zM790 725h1v1h-1zM791 725h1v1h-1zM792 725h1v1h-1zM793 725h1v1h-1zM794 725h1v1h-1zM795 725h1v1h-1zM796 725h1v1h-1zM797 726h1v1h-1zM798 727h1v1h-1zM799 728h1v1h-1zM800 729h1v1h-1zM801 729h1v1h-1zM802 730h1v1h-1zM803 731h1v1h-1zM804 732h1v1h-1zM805 731h1v1h-1zM806 730h1v1h-1zM807 729h1v1h-1zM808 727h1v2h-1zM809 726h1v1h-1zM810 725h1v1h-1zM811 724h1v1h-1zM812 723h1v1h-1zM813 723h1v1h-1zM814 723h1v1h-1zM815 723h1v1h-1zM816 724h1v1h-1zM817 724h1v1h-1zM818 724h1v1h-1zM819 724h1v1h-1zM820 724h1v1h-1zM821 723h1v1h-1zM822 722h1v1h-1zM823 722h1v1h-1zM824 721h1v1h-1zM825 720h1v1h-1zM826 719h1v1h-1zM827 719h1v1h-1zM828 718h1v1h-1zM829 719h1v1h-1zM830 720h1v1h-1zM831 721h1v1h-1zM832 722h1v1h-1zM833 723h1v1h-1zM834 724h1v1h-1zM835 725h1v1h-1zM836 726h1v1h-1zM837 726h1v1h-1zM838 727h1v1h-1zM839 727h1v1h-1zM840 727h1v1h-1zM841 727h1v1h-1zM842 728h1v1h-1zM843 728h1v1h-1zM844 728h1v1h-1zM845 728h1v1h-1zM846 728h1v1h-1zM847 728h1v1h-1zM848 728h1v1h-1zM849 728h1v1h-1zM850 728h1v1h-1zM851 728h1v1h-1zM852 728h1v1h-1zM853 729h1v1h-1zM854 729h1v1h-1zM855 730h1v1h-1zM856 731h1v1h-1zM857 731h1v1h-1zM858 732h1v1h-1zM859 732h1v1h-1zM860 733h1v1h-1zM861 734h1v1h-1zM862 734h1v1h-1zM863 735h1v1h-1zM864 736h1v1h-1zM865 736h1v1h-1zM866 737h1v1h-1zM867 737h1v1h-1zM868 738h1v1h-1zM869 737h1v1h-1zM870 736h1v1h-1zM871 735h1v1h-1zM872 734h1v1h-1zM873 733h1v1h-1zM874 732h1v1h-1zM875 731h1v1h-1zM876 730h1v1h-1zM877 729h1v1h-1zM878 729h1v1h-1zM879 728h1v1h-1zM880 728h1v1h-1zM881 727h1v1h-1zM882 727h1v1h-1zM883 726h1v1h-1zM884 726h1v1h-1zM885 727h1v1h-1zM886 727h1v1h-1zM887 728h1v1h-1zM888 729h1v1h-1zM889 729h1v1h-1zM890 730h1v1h-1zM891 730h1v1h-1zM892 731h1v1h-1zM893 731h1v1h-1zM894 731h1v1h-1zM895 731h1v1h-1zM896 730h1v1h-1zM897 730h1v1h-1zM898 730h1v1h-1zM899 730h1v1h-1zM900 730h1v1h-1zM901 729h1v1h-1zM902 728h1v1h-1zM903 727h1v1h-1zM904 725h1v2h-1zM905 724h1v1h-1zM906 723h1v1h-1zM907 722h1v1h-1zM908 721h1v1h-1zM909 722h1v1h-1zM910 723h1v1h-1zM911 724h1v1h-1zM912 725h1v1h-1zM913 726h1v1h-1zM914 727h1v1h-1zM915 728h1v1h-1zM916 729h1v1h-1zM917 728h1v1h-1zM918 728h1v1h-1zM919 727h1v1h-1zM920 727h1v1h-1zM921 726h1v1h-1zM922 726h1v1h-1zM923 725h1v1h-1zM924 725h1v1h-1zM925 725h1v1h-1zM926 724h1v1h-1zM927 724h1v1h-1zM928 723h1v1h-1zM929 723h1v1h-1zM930 723h1v1h-1zM931 722h1v1h-1zM932 722h1v1h-1zM933 723h1v1h-1zM934 724h1v1h-1zM935 724h1v1h-1zM936 725h1v1h-1zM937 726h1v1h-1zM938 727h1v1h-1zM939 727h1v1h-1zM940 728h1v1h-1zM941 728h1v1h-1zM942 728h1v1h-1zM943 728h1v1h-1zM944 729h1v1h-1zM945 729h1v1h-1zM946 729h1v1h-1zM947 729h1v1h-1zM948 729h1v1h-1zM949 729h1v1h-1zM950 729h1v1h-1zM951 729h1v1h-1zM952 728h1v1h-1zM953 728h1v1h-1zM954 728h1v1h-1zM955 728h1v1h-1zM956 728h1v1h-1zM957 729h1v1h-1zM958 729h1v1h-1zM959 730h1v1h-1zM960 730h1v1h-1zM961 731h1v1h-1zM962 731h1v1h-1zM963 732h1v1h-1zM964 732h1v1h-1zM965 732h1v1h-1zM966 732h1v1h-1zM967 732h1v1h-1zM968 731h1v1h-1zM969 731h1v1h-1zM970 731h1v1h-1zM971 731h1v1h-1zM972 731h1v1h-1zM973 730h1v1h-1zM974 730h1v1h-1zM975 729h1v1h-1zM976 728h1v1h-1zM977 728h1v1h-1zM978 727h1v1h-1zM979 727h1v1h-1zM980 726h1v1h-1zM981 726h1v1h-1zM982 725h1v1h-1zM983 725h1v1h-1zM984 725h1v1h-1zM985 725h1v1h-1zM986 724h1v1h-1zM987 724h1v1h-1zM988 724h1v1h-1zM989 724h1v1h-1zM990 724h1v1h-1zM991 724h1v1h-1zM992 723h1v1h-1zM993 723h1v1h-1zM994 723h1v1h-1zM995 723h1v1h-1zM996 723h1v1h-1zM997 723h1v1h-1zM998 723h1v1h-1zM999 723h1v1h-1zM1000 724h1v1h-1zM1001 724h1v1h-1zM1002 724h1v1h-1zM1003 724h1v1h-1zM1004 724h1v1h-1zM1005 724h1v1h-1zM1006 723h1v1h-1zM1007 723h1v1h-1zM1008 723h1v1h-1zM1009 723h1v1h-1zM1010 722h1v1h-1zM1011 722h1v1h-1zM1012 722h1v1h-1zM1013 723h1v1h-1zM1014 724h1v2h-1zM1015 726h1v1h-1zM1016 727h1v1h-1zM1017 728h1v1h-1zM1018 729h1v2h-1zM1019 731h1v1h-1zM1020 732h1v1h-1zM1021 733h1v2h-1zM1022 735h1v1h-1zM1023 736h1v2h-1zM1024 738h1v1h-1zM1025 739h1v2h-1zM1026 741h1v1h-1zM1027 742h1v2h-1zM1028 744h1v1h-1zM1029 745h1v1h-1zM1030 745h1v1h-1zM1031 746h1v1h-1zM1032 746h1v1h-1zM1033 747h1v1h-1zM1034 747h1v1h-1zM1035 748h1v1h-1zM1036 748h1v1h-1zM1037 748h1v1h-1zM1038 748h1v1h-1zM1039 748h1v1h-1zM1040 748h1v1h-1zM1041 748h1v1h-1zM1042 748h1v1h-1zM1043 748h1v1h-1zM1044 748h1v1h-1zM1045 748h1v1h-1zM1046 747h1v1h-1zM1047 747h1v1h-1zM1048 746h1v1h-1zM1049 746h1v1h-1zM1050 746h1v1h-1zM1051 745h1v1h-1zM1052 745h1v1h-1zM1053 744h1v1h-1zM1054 743h1v1h-1zM1055 742h1v1h-1zM1056 741h1v1h-1zM1057 741h1v1h-1zM1058 740h1v1h-1zM1059 739h1v1h-1zM1060 738h1v1h-1zM1061 738h1v1h-1zM1062 737h1v1h-1zM1063 737h1v1h-1zM1064 736h1v1h-1zM1065 736h1v1h-1zM1066 736h1v1h-1zM1067 735h1v1h-1zM1068 735h1v1h-1zM1069 734h1v1h-1zM1070 734h1v1h-1zM1071 733h1v1h-1zM1072 733h1v1h-1zM1073 732h1v1h-1zM1074 732h1v1h-1zM1075 731h1v1h-1zM1076 731h1v1h-1zM1077 730h1v1h-1zM1078 730h1v1h-1zM1079 729h1v1h-1zM1080 729h1v1h-1zM1081 728h1v1h-1zM1082 728h1v1h-1zM1083 727h1v1h-1zM1084 727h1v1h-1zM1085 727h1v1h-1zM1086 727h1v1h-1zM1087 727h1v1h-1zM1088 728h1v1h-1zM1089 728h1v1h-1zM1090 728h1v1h-1zM1091 728h1v1h-1zM1092 728h1v1h-1zM1093 728h1v1h-1zM1094 728h1v1h-1zM1095 728h1v1h-1zM1096 727h1v1h-1zM1097 727h1v1h-1zM1098 727h1v1h-1zM1099 727h1v1h-1zM1100 727h1v1h-1zM1101 727h1v1h-1zM1102 728h1v1h-1zM1103 728h1v1h-1zM1104 728h1v1h-1zM1105 728h1v1h-1zM1106 729h1v1h-1zM1107 729h1v1h-1zM1108 729h1v1h-1zM1109 729h1v1h-1zM1110 729h1v1h-1zM1111 729h1v1h-1zM1112 729h1v1h-1zM1113 729h1v1h-1zM1114 729h1v1h-1zM1115 729h1v1h-1zM1116 729h1v1h-1z" fill="#1e90ff"/>
<linearGradient id="gTop" x1="0" y1="0" x2="0" y2="1"><stop offset="0" stop-color="#5b5bff"/><stop offset="1" stop-color="#3a3ae8"/></linearGradient>
<linearGradient id="gBot" x1="0" y1="0" x2="0" y2="1"><stop offset="0" stop-color="#3333e0"/><stop offset="1" stop-color="#0000a8"/></linearGradient>
<linearGradient id="gBtn" x1="0" y1="0" x2="0" y2="1"><stop offset="0" stop-color="#f0f0f0"/><stop offset="0.5" stop-color="#e6e6e6"/><stop offset="0.55" stop-color="#d9d9d9"/><stop offset="1" stop-color="#d4d4d4"/></linearGradient>
<rect x="5" y="38" width="223" height="68" fill="#ffffff"/>
<rect x="7" y="40" width="52" height="24" fill="url(#gTop)"/>
<rect x="7" y="64" width="109" height="40" fill="url(#gBot)"/>
<rect x="174" y="40" width="52" height="24" fill="url(#gTop)"/>
<rect x="118" y="64" width="108" height="40" fill="url(#gBot)"/>
<rect x="11" y="64" width="44" height="1" fill="#8f8fff"/>
<rect x="178" y="64" width="44" height="1" fill="#8f8fff"/>
<rect x="61" y="40" width="111" height="22" fill="#b4b4b4"/>
<rect x="62" y="41" width="109" height="20" fill="#ffffff"/>
<rect x="62" y="41" width="20" height="20" fill="#b4b4b4"/>
<rect x="63" y="42" width="18" height="18" fill="url(#gBtn)"/>
<rect x="151" y="41" width="20" height="20" fill="#b4b4b4"/>
<rect x="152" y="42" width="18" height="18" fill="url(#gBtn)"/>
<path d="M68.5,49 L74.5,49 L71.5,52 Z" fill="#5a6fbf" shape-rendering="geometricPrecision"/>
<path d="M157.5,52 L163.5,52 L160.5,49 Z" fill="#5a6fbf" shape-rendering="geometricPrecision"/>
<text x="20" y="56" font-size="11" fill="#e6e6ff" font-weight="400" text-anchor="start">SELL</text>
<text x="188" y="56" font-size="11" fill="#e6e6ff" font-weight="400" text-anchor="start">BUY</text>
<text x="147" y="55" font-size="12" fill="#000" font-weight="400" text-anchor="end" stroke="#000" stroke-width="0.2">1.00</text>
<text x="27" y="95" font-size="12" fill="#ffffff" font-weight="700" text-anchor="start">0.99</text>
<text x="54" y="95" font-size="33" fill="#ffffff" font-weight="400" text-anchor="start" textLength="35" lengthAdjust="spacingAndGlyphs">41</text>
<text x="94" y="79" font-size="12" fill="#ffffff" font-weight="700" text-anchor="start">4</text>
<text x="137" y="95" font-size="12" fill="#ffffff" font-weight="700" text-anchor="start">0.99</text>
<text x="164" y="95" font-size="33" fill="#ffffff" font-weight="400" text-anchor="start" textLength="35" lengthAdjust="spacingAndGlyphs">43</text>
<text x="205" y="79" font-size="12" fill="#ffffff" font-weight="700" text-anchor="start">9</text>
</svg>
</body></html>
